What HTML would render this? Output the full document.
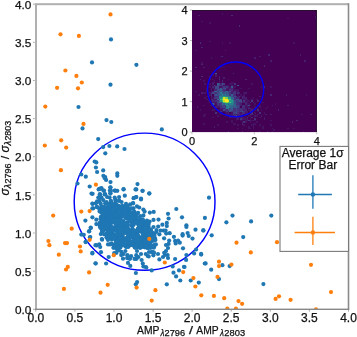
<!DOCTYPE html><html><head><meta charset="utf-8"><style>html,body{margin:0;padding:0;background:#fff;}svg{display:block;}text{font-family:"Liberation Sans",sans-serif;fill:#111;stroke:#111;stroke-width:0.25px;}svg{will-change:transform;}</style></head><body>
<svg width="357" height="337" viewBox="0 0 357 337">
<rect width="357" height="337" fill="#fff"/>
<defs><clipPath id="ax"><rect x="35.8" y="4.2" width="312.7" height="305.1"/></clipPath></defs>
<g clip-path="url(#ax)">
<ellipse cx="144.6" cy="201.7" rx="70.4" ry="68.6" fill="none" stroke="#0000ff" stroke-width="1.45"/>
<g fill="#1f77b4">
<circle cx="116.1" cy="207.2" r="2.1"/>
<circle cx="128.6" cy="217.6" r="2.1"/>
<circle cx="100.4" cy="224.4" r="2.1"/>
<circle cx="122.0" cy="239.7" r="2.1"/>
<circle cx="104.3" cy="210.7" r="2.1"/>
<circle cx="134.0" cy="245.5" r="2.1"/>
<circle cx="131.0" cy="219.0" r="2.1"/>
<circle cx="115.2" cy="239.2" r="2.1"/>
<circle cx="107.7" cy="227.9" r="2.1"/>
<circle cx="134.7" cy="217.9" r="2.1"/>
<circle cx="137.1" cy="220.5" r="2.1"/>
<circle cx="115.5" cy="228.1" r="2.1"/>
<circle cx="123.7" cy="214.4" r="2.1"/>
<circle cx="143.9" cy="233.6" r="2.1"/>
<circle cx="111.4" cy="227.6" r="2.1"/>
<circle cx="128.0" cy="242.0" r="2.1"/>
<circle cx="121.7" cy="236.3" r="2.1"/>
<circle cx="106.0" cy="223.5" r="2.1"/>
<circle cx="142.1" cy="227.5" r="2.1"/>
<circle cx="138.0" cy="228.5" r="2.1"/>
<circle cx="131.2" cy="221.9" r="2.1"/>
<circle cx="146.6" cy="245.3" r="2.1"/>
<circle cx="125.0" cy="231.9" r="2.1"/>
<circle cx="135.2" cy="247.7" r="2.1"/>
<circle cx="119.8" cy="232.1" r="2.1"/>
<circle cx="104.6" cy="211.9" r="2.1"/>
<circle cx="120.1" cy="241.8" r="2.1"/>
<circle cx="101.8" cy="221.6" r="2.1"/>
<circle cx="129.4" cy="242.4" r="2.1"/>
<circle cx="145.3" cy="241.5" r="2.1"/>
<circle cx="113.4" cy="219.9" r="2.1"/>
<circle cx="118.2" cy="242.4" r="2.1"/>
<circle cx="107.4" cy="211.1" r="2.1"/>
<circle cx="110.8" cy="223.3" r="2.1"/>
<circle cx="131.8" cy="212.6" r="2.1"/>
<circle cx="118.8" cy="227.2" r="2.1"/>
<circle cx="153.2" cy="233.1" r="2.1"/>
<circle cx="127.4" cy="229.6" r="2.1"/>
<circle cx="150.1" cy="237.4" r="2.1"/>
<circle cx="148.6" cy="238.3" r="2.1"/>
<circle cx="120.2" cy="219.2" r="2.1"/>
<circle cx="103.1" cy="230.4" r="2.1"/>
<circle cx="109.3" cy="207.8" r="2.1"/>
<circle cx="103.0" cy="217.5" r="2.1"/>
<circle cx="111.9" cy="216.7" r="2.1"/>
<circle cx="118.5" cy="205.9" r="2.1"/>
<circle cx="147.1" cy="247.7" r="2.1"/>
<circle cx="124.5" cy="223.2" r="2.1"/>
<circle cx="117.2" cy="212.7" r="2.1"/>
<circle cx="128.2" cy="247.0" r="2.1"/>
<circle cx="147.9" cy="233.4" r="2.1"/>
<circle cx="112.4" cy="217.6" r="2.1"/>
<circle cx="106.9" cy="237.1" r="2.1"/>
<circle cx="128.4" cy="237.4" r="2.1"/>
<circle cx="116.5" cy="210.7" r="2.1"/>
<circle cx="144.9" cy="247.3" r="2.1"/>
<circle cx="147.3" cy="238.7" r="2.1"/>
<circle cx="145.3" cy="235.5" r="2.1"/>
<circle cx="110.4" cy="224.8" r="2.1"/>
<circle cx="112.3" cy="233.2" r="2.1"/>
<circle cx="152.3" cy="247.4" r="2.1"/>
<circle cx="110.0" cy="210.9" r="2.1"/>
<circle cx="108.6" cy="209.8" r="2.1"/>
<circle cx="133.8" cy="243.2" r="2.1"/>
<circle cx="146.6" cy="223.0" r="2.1"/>
<circle cx="135.5" cy="238.4" r="2.1"/>
<circle cx="102.0" cy="231.7" r="2.1"/>
<circle cx="150.7" cy="237.6" r="2.1"/>
<circle cx="141.3" cy="222.9" r="2.1"/>
<circle cx="107.5" cy="237.9" r="2.1"/>
<circle cx="116.6" cy="238.4" r="2.1"/>
<circle cx="120.7" cy="245.4" r="2.1"/>
<circle cx="104.5" cy="207.3" r="2.1"/>
<circle cx="150.4" cy="238.7" r="2.1"/>
<circle cx="117.7" cy="226.3" r="2.1"/>
<circle cx="128.1" cy="244.8" r="2.1"/>
<circle cx="122.6" cy="241.8" r="2.1"/>
<circle cx="111.9" cy="214.1" r="2.1"/>
<circle cx="111.2" cy="228.1" r="2.1"/>
<circle cx="112.3" cy="220.1" r="2.1"/>
<circle cx="117.9" cy="222.0" r="2.1"/>
<circle cx="131.4" cy="243.4" r="2.1"/>
<circle cx="121.8" cy="244.1" r="2.1"/>
<circle cx="126.6" cy="225.5" r="2.1"/>
<circle cx="123.0" cy="208.8" r="2.1"/>
<circle cx="107.2" cy="222.7" r="2.1"/>
<circle cx="139.8" cy="226.7" r="2.1"/>
<circle cx="116.2" cy="224.9" r="2.1"/>
<circle cx="129.8" cy="237.6" r="2.1"/>
<circle cx="103.3" cy="226.9" r="2.1"/>
<circle cx="111.7" cy="213.3" r="2.1"/>
<circle cx="142.6" cy="224.4" r="2.1"/>
<circle cx="130.1" cy="236.5" r="2.1"/>
<circle cx="133.1" cy="224.3" r="2.1"/>
<circle cx="127.2" cy="233.3" r="2.1"/>
<circle cx="123.7" cy="225.6" r="2.1"/>
<circle cx="125.2" cy="245.2" r="2.1"/>
<circle cx="138.3" cy="242.1" r="2.1"/>
<circle cx="130.0" cy="245.3" r="2.1"/>
<circle cx="104.2" cy="221.2" r="2.1"/>
<circle cx="101.3" cy="211.6" r="2.1"/>
<circle cx="143.3" cy="243.1" r="2.1"/>
<circle cx="106.1" cy="234.4" r="2.1"/>
<circle cx="149.1" cy="246.4" r="2.1"/>
<circle cx="120.5" cy="223.4" r="2.1"/>
<circle cx="155.4" cy="240.0" r="2.1"/>
<circle cx="106.5" cy="220.7" r="2.1"/>
<circle cx="127.4" cy="216.3" r="2.1"/>
<circle cx="108.5" cy="215.3" r="2.1"/>
<circle cx="129.7" cy="221.1" r="2.1"/>
<circle cx="133.8" cy="224.6" r="2.1"/>
<circle cx="143.5" cy="246.6" r="2.1"/>
<circle cx="103.2" cy="212.7" r="2.1"/>
<circle cx="113.0" cy="206.2" r="2.1"/>
<circle cx="121.9" cy="243.7" r="2.1"/>
<circle cx="130.7" cy="233.6" r="2.1"/>
<circle cx="137.6" cy="220.4" r="2.1"/>
<circle cx="134.4" cy="238.5" r="2.1"/>
<circle cx="123.8" cy="216.3" r="2.1"/>
<circle cx="129.6" cy="244.5" r="2.1"/>
<circle cx="112.8" cy="206.2" r="2.1"/>
<circle cx="128.1" cy="211.4" r="2.1"/>
<circle cx="103.5" cy="207.7" r="2.1"/>
<circle cx="115.4" cy="214.6" r="2.1"/>
<circle cx="126.5" cy="208.5" r="2.1"/>
<circle cx="140.3" cy="226.5" r="2.1"/>
<circle cx="108.2" cy="222.8" r="2.1"/>
<circle cx="126.2" cy="240.1" r="2.1"/>
<circle cx="120.2" cy="224.3" r="2.1"/>
<circle cx="137.6" cy="247.2" r="2.1"/>
<circle cx="117.2" cy="239.9" r="2.1"/>
<circle cx="138.7" cy="230.5" r="2.1"/>
<circle cx="120.9" cy="216.7" r="2.1"/>
<circle cx="112.1" cy="207.8" r="2.1"/>
<circle cx="148.4" cy="232.2" r="2.1"/>
<circle cx="113.6" cy="211.6" r="2.1"/>
<circle cx="114.3" cy="222.1" r="2.1"/>
<circle cx="106.3" cy="221.4" r="2.1"/>
<circle cx="115.3" cy="217.1" r="2.1"/>
<circle cx="125.0" cy="224.1" r="2.1"/>
<circle cx="108.9" cy="224.2" r="2.1"/>
<circle cx="102.3" cy="219.2" r="2.1"/>
<circle cx="115.0" cy="211.2" r="2.1"/>
<circle cx="131.5" cy="225.4" r="2.1"/>
<circle cx="141.3" cy="231.6" r="2.1"/>
<circle cx="139.2" cy="242.2" r="2.1"/>
<circle cx="120.0" cy="215.7" r="2.1"/>
<circle cx="139.7" cy="230.9" r="2.1"/>
<circle cx="149.6" cy="230.1" r="2.1"/>
<circle cx="140.3" cy="239.0" r="2.1"/>
<circle cx="105.2" cy="225.1" r="2.1"/>
<circle cx="126.8" cy="240.1" r="2.1"/>
<circle cx="144.5" cy="239.7" r="2.1"/>
<circle cx="131.5" cy="242.9" r="2.1"/>
<circle cx="137.3" cy="233.3" r="2.1"/>
<circle cx="104.9" cy="217.3" r="2.1"/>
<circle cx="130.0" cy="230.1" r="2.1"/>
<circle cx="133.9" cy="232.7" r="2.1"/>
<circle cx="144.1" cy="235.9" r="2.1"/>
<circle cx="126.7" cy="225.7" r="2.1"/>
<circle cx="101.4" cy="212.7" r="2.1"/>
<circle cx="140.6" cy="246.8" r="2.1"/>
<circle cx="126.1" cy="218.4" r="2.1"/>
<circle cx="125.3" cy="232.8" r="2.1"/>
<circle cx="142.3" cy="229.6" r="2.1"/>
<circle cx="105.7" cy="212.2" r="2.1"/>
<circle cx="136.6" cy="233.2" r="2.1"/>
<circle cx="127.5" cy="222.3" r="2.1"/>
<circle cx="154.7" cy="244.9" r="2.1"/>
<circle cx="145.4" cy="246.5" r="2.1"/>
<circle cx="123.5" cy="212.9" r="2.1"/>
<circle cx="109.4" cy="227.9" r="2.1"/>
<circle cx="105.4" cy="225.2" r="2.1"/>
<circle cx="145.4" cy="224.4" r="2.1"/>
<circle cx="149.3" cy="233.8" r="2.1"/>
<circle cx="123.6" cy="214.5" r="2.1"/>
<circle cx="105.3" cy="216.5" r="2.1"/>
<circle cx="115.6" cy="240.3" r="2.1"/>
<circle cx="151.7" cy="234.2" r="2.1"/>
<circle cx="119.0" cy="218.9" r="2.1"/>
<circle cx="118.3" cy="220.5" r="2.1"/>
<circle cx="113.9" cy="244.9" r="2.1"/>
<circle cx="111.7" cy="212.8" r="2.1"/>
<circle cx="127.1" cy="209.1" r="2.1"/>
<circle cx="119.0" cy="245.9" r="2.1"/>
<circle cx="149.2" cy="239.0" r="2.1"/>
<circle cx="134.2" cy="243.8" r="2.1"/>
<circle cx="140.2" cy="221.6" r="2.1"/>
<circle cx="141.4" cy="230.9" r="2.1"/>
<circle cx="124.9" cy="216.5" r="2.1"/>
<circle cx="114.6" cy="235.5" r="2.1"/>
<circle cx="129.9" cy="218.9" r="2.1"/>
<circle cx="106.9" cy="207.8" r="2.1"/>
<circle cx="126.3" cy="210.6" r="2.1"/>
<circle cx="150.5" cy="247.8" r="2.1"/>
<circle cx="123.5" cy="206.7" r="2.1"/>
<circle cx="111.1" cy="212.4" r="2.1"/>
<circle cx="130.6" cy="242.6" r="2.1"/>
<circle cx="141.2" cy="219.8" r="2.1"/>
<circle cx="121.4" cy="225.2" r="2.1"/>
<circle cx="119.2" cy="216.2" r="2.1"/>
<circle cx="126.7" cy="230.2" r="2.1"/>
<circle cx="113.0" cy="211.9" r="2.1"/>
<circle cx="120.6" cy="221.4" r="2.1"/>
<circle cx="153.3" cy="240.7" r="2.1"/>
<circle cx="120.1" cy="244.5" r="2.1"/>
<circle cx="145.7" cy="241.1" r="2.1"/>
<circle cx="103.4" cy="207.4" r="2.1"/>
<circle cx="127.8" cy="232.7" r="2.1"/>
<circle cx="152.5" cy="234.6" r="2.1"/>
<circle cx="135.2" cy="236.7" r="2.1"/>
<circle cx="124.0" cy="226.5" r="2.1"/>
<circle cx="135.1" cy="214.6" r="2.1"/>
<circle cx="104.6" cy="212.1" r="2.1"/>
<circle cx="134.5" cy="233.5" r="2.1"/>
<circle cx="127.9" cy="228.0" r="2.1"/>
<circle cx="119.9" cy="210.7" r="2.1"/>
<circle cx="114.8" cy="222.1" r="2.1"/>
<circle cx="110.9" cy="211.9" r="2.1"/>
<circle cx="153.7" cy="233.8" r="2.1"/>
<circle cx="126.4" cy="232.4" r="2.1"/>
<circle cx="121.8" cy="212.3" r="2.1"/>
<circle cx="136.4" cy="244.4" r="2.1"/>
<circle cx="116.9" cy="220.2" r="2.1"/>
<circle cx="144.0" cy="235.5" r="2.1"/>
<circle cx="126.8" cy="209.9" r="2.1"/>
<circle cx="110.1" cy="236.5" r="2.1"/>
<circle cx="114.4" cy="245.7" r="2.1"/>
<circle cx="126.3" cy="209.0" r="2.1"/>
<circle cx="110.2" cy="220.0" r="2.1"/>
<circle cx="136.3" cy="245.5" r="2.1"/>
<circle cx="105.6" cy="218.9" r="2.1"/>
<circle cx="100.5" cy="218.9" r="2.1"/>
<circle cx="150.0" cy="242.4" r="2.1"/>
<circle cx="140.2" cy="247.9" r="2.1"/>
<circle cx="136.2" cy="218.2" r="2.1"/>
<circle cx="119.1" cy="215.9" r="2.1"/>
<circle cx="113.5" cy="216.9" r="2.1"/>
<circle cx="118.0" cy="239.4" r="2.1"/>
<circle cx="99.9" cy="222.7" r="2.1"/>
<circle cx="119.0" cy="244.1" r="2.1"/>
<circle cx="108.4" cy="217.5" r="2.1"/>
<circle cx="121.2" cy="239.0" r="2.1"/>
<circle cx="141.1" cy="243.1" r="2.1"/>
<circle cx="117.0" cy="213.1" r="2.1"/>
<circle cx="112.5" cy="234.4" r="2.1"/>
<circle cx="115.7" cy="213.2" r="2.1"/>
<circle cx="151.1" cy="230.4" r="2.1"/>
<circle cx="110.8" cy="222.8" r="2.1"/>
<circle cx="153.4" cy="245.8" r="2.1"/>
<circle cx="119.8" cy="212.1" r="2.1"/>
<circle cx="122.4" cy="223.7" r="2.1"/>
<circle cx="144.4" cy="235.4" r="2.1"/>
<circle cx="145.5" cy="237.1" r="2.1"/>
<circle cx="132.8" cy="215.7" r="2.1"/>
<circle cx="115.9" cy="217.4" r="2.1"/>
<circle cx="108.6" cy="236.1" r="2.1"/>
<circle cx="116.2" cy="247.1" r="2.1"/>
<circle cx="149.1" cy="247.4" r="2.1"/>
<circle cx="102.7" cy="223.9" r="2.1"/>
<circle cx="138.9" cy="221.5" r="2.1"/>
<circle cx="110.8" cy="220.0" r="2.1"/>
<circle cx="133.6" cy="232.4" r="2.1"/>
<circle cx="141.1" cy="240.7" r="2.1"/>
<circle cx="130.4" cy="217.9" r="2.1"/>
<circle cx="111.6" cy="211.8" r="2.1"/>
<circle cx="131.1" cy="215.7" r="2.1"/>
<circle cx="120.4" cy="247.6" r="2.1"/>
<circle cx="126.9" cy="211.1" r="2.1"/>
<circle cx="144.7" cy="231.4" r="2.1"/>
<circle cx="125.0" cy="239.3" r="2.1"/>
<circle cx="146.6" cy="243.9" r="2.1"/>
<circle cx="104.0" cy="209.1" r="2.1"/>
<circle cx="112.3" cy="237.3" r="2.1"/>
<circle cx="132.2" cy="229.8" r="2.1"/>
<circle cx="109.8" cy="217.7" r="2.1"/>
<circle cx="105.3" cy="209.8" r="2.1"/>
<circle cx="112.0" cy="228.8" r="2.1"/>
<circle cx="115.4" cy="209.8" r="2.1"/>
<circle cx="143.9" cy="226.3" r="2.1"/>
<circle cx="120.3" cy="226.4" r="2.1"/>
<circle cx="106.7" cy="233.4" r="2.1"/>
<circle cx="121.2" cy="213.6" r="2.1"/>
<circle cx="115.1" cy="245.8" r="2.1"/>
<circle cx="115.4" cy="227.2" r="2.1"/>
<circle cx="118.1" cy="220.0" r="2.1"/>
<circle cx="148.0" cy="247.8" r="2.1"/>
<circle cx="118.5" cy="209.5" r="2.1"/>
<circle cx="122.0" cy="239.4" r="2.1"/>
<circle cx="121.0" cy="242.4" r="2.1"/>
<circle cx="124.2" cy="207.8" r="2.1"/>
<circle cx="134.8" cy="243.7" r="2.1"/>
<circle cx="102.3" cy="229.9" r="2.1"/>
<circle cx="118.9" cy="224.2" r="2.1"/>
<circle cx="105.6" cy="213.6" r="2.1"/>
<circle cx="127.7" cy="244.4" r="2.1"/>
<circle cx="103.4" cy="223.5" r="2.1"/>
<circle cx="144.5" cy="246.4" r="2.1"/>
<circle cx="152.6" cy="246.8" r="2.1"/>
<circle cx="150.3" cy="229.8" r="2.1"/>
<circle cx="120.9" cy="240.6" r="2.1"/>
<circle cx="109.9" cy="219.2" r="2.1"/>
<circle cx="127.6" cy="218.4" r="2.1"/>
<circle cx="104.3" cy="211.9" r="2.1"/>
<circle cx="139.8" cy="243.1" r="2.1"/>
<circle cx="132.4" cy="226.4" r="2.1"/>
<circle cx="134.0" cy="214.7" r="2.1"/>
<circle cx="121.8" cy="228.0" r="2.1"/>
<circle cx="122.1" cy="231.6" r="2.1"/>
<circle cx="123.4" cy="221.0" r="2.1"/>
<circle cx="125.9" cy="211.3" r="2.1"/>
<circle cx="142.1" cy="237.4" r="2.1"/>
<circle cx="124.0" cy="208.6" r="2.1"/>
<circle cx="104.6" cy="220.7" r="2.1"/>
<circle cx="102.4" cy="221.2" r="2.1"/>
<circle cx="140.3" cy="237.3" r="2.1"/>
<circle cx="126.7" cy="218.1" r="2.1"/>
<circle cx="147.6" cy="247.8" r="2.1"/>
<circle cx="140.2" cy="239.1" r="2.1"/>
<circle cx="126.0" cy="245.9" r="2.1"/>
<circle cx="143.5" cy="244.7" r="2.1"/>
<circle cx="100.9" cy="216.8" r="2.1"/>
<circle cx="126.6" cy="244.2" r="2.1"/>
<circle cx="109.3" cy="212.6" r="2.1"/>
<circle cx="126.9" cy="215.3" r="2.1"/>
<circle cx="137.1" cy="243.0" r="2.1"/>
<circle cx="107.0" cy="237.7" r="2.1"/>
<circle cx="103.8" cy="225.5" r="2.1"/>
<circle cx="134.5" cy="217.3" r="2.1"/>
<circle cx="148.5" cy="226.6" r="2.1"/>
<circle cx="131.2" cy="242.4" r="2.1"/>
<circle cx="134.2" cy="218.9" r="2.1"/>
<circle cx="118.3" cy="236.7" r="2.1"/>
<circle cx="123.1" cy="208.5" r="2.1"/>
<circle cx="134.7" cy="247.2" r="2.1"/>
<circle cx="131.6" cy="231.9" r="2.1"/>
<circle cx="133.3" cy="220.7" r="2.1"/>
<circle cx="127.2" cy="243.0" r="2.1"/>
<circle cx="104.8" cy="210.9" r="2.1"/>
<circle cx="103.3" cy="217.1" r="2.1"/>
<circle cx="110.2" cy="228.0" r="2.1"/>
<circle cx="133.8" cy="222.8" r="2.1"/>
<circle cx="111.4" cy="207.2" r="2.1"/>
<circle cx="102.7" cy="230.6" r="2.1"/>
<circle cx="148.4" cy="237.5" r="2.1"/>
<circle cx="120.7" cy="212.7" r="2.1"/>
<circle cx="130.2" cy="216.8" r="2.1"/>
<circle cx="135.1" cy="221.3" r="2.1"/>
<circle cx="152.3" cy="235.2" r="2.1"/>
<circle cx="111.7" cy="243.4" r="2.1"/>
<circle cx="99.6" cy="225.5" r="2.1"/>
<circle cx="121.0" cy="211.4" r="2.1"/>
<circle cx="108.8" cy="229.2" r="2.1"/>
<circle cx="126.9" cy="230.8" r="2.1"/>
<circle cx="115.3" cy="214.4" r="2.1"/>
<circle cx="143.2" cy="234.3" r="2.1"/>
<circle cx="141.0" cy="222.3" r="2.1"/>
<circle cx="140.8" cy="221.7" r="2.1"/>
<circle cx="116.8" cy="236.0" r="2.1"/>
<circle cx="138.0" cy="240.6" r="2.1"/>
<circle cx="129.7" cy="220.9" r="2.1"/>
<circle cx="143.5" cy="225.1" r="2.1"/>
<circle cx="112.7" cy="230.8" r="2.1"/>
<circle cx="112.4" cy="211.3" r="2.1"/>
<circle cx="140.9" cy="245.3" r="2.1"/>
<circle cx="134.2" cy="233.3" r="2.1"/>
<circle cx="136.2" cy="247.0" r="2.1"/>
<circle cx="124.7" cy="240.3" r="2.1"/>
<circle cx="138.2" cy="241.2" r="2.1"/>
<circle cx="122.8" cy="234.8" r="2.1"/>
<circle cx="130.7" cy="214.8" r="2.1"/>
<circle cx="109.5" cy="229.9" r="2.1"/>
<circle cx="117.3" cy="206.8" r="2.1"/>
<circle cx="137.9" cy="230.4" r="2.1"/>
<circle cx="138.1" cy="235.4" r="2.1"/>
<circle cx="100.9" cy="228.3" r="2.1"/>
<circle cx="118.4" cy="239.2" r="2.1"/>
<circle cx="145.4" cy="242.8" r="2.1"/>
<circle cx="151.0" cy="245.3" r="2.1"/>
<circle cx="103.3" cy="209.9" r="2.1"/>
<circle cx="147.0" cy="239.0" r="2.1"/>
<circle cx="134.4" cy="239.6" r="2.1"/>
<circle cx="134.3" cy="213.8" r="2.1"/>
<circle cx="115.8" cy="220.3" r="2.1"/>
<circle cx="113.7" cy="234.4" r="2.1"/>
<circle cx="118.7" cy="215.4" r="2.1"/>
<circle cx="147.2" cy="229.7" r="2.1"/>
<circle cx="122.8" cy="237.1" r="2.1"/>
<circle cx="117.5" cy="233.8" r="2.1"/>
<circle cx="128.7" cy="210.4" r="2.1"/>
<circle cx="142.0" cy="246.9" r="2.1"/>
<circle cx="126.0" cy="238.2" r="2.1"/>
<circle cx="107.9" cy="223.7" r="2.1"/>
<circle cx="117.5" cy="239.9" r="2.1"/>
<circle cx="113.7" cy="210.3" r="2.1"/>
<circle cx="138.3" cy="223.9" r="2.1"/>
<circle cx="103.5" cy="230.6" r="2.1"/>
<circle cx="138.1" cy="237.8" r="2.1"/>
<circle cx="134.0" cy="217.1" r="2.1"/>
<circle cx="120.7" cy="218.9" r="2.1"/>
<circle cx="109.2" cy="212.6" r="2.1"/>
<circle cx="119.4" cy="242.4" r="2.1"/>
<circle cx="110.8" cy="222.1" r="2.1"/>
<circle cx="128.4" cy="236.2" r="2.1"/>
<circle cx="141.4" cy="231.0" r="2.1"/>
<circle cx="117.6" cy="215.7" r="2.1"/>
<circle cx="136.1" cy="235.6" r="2.1"/>
<circle cx="107.0" cy="221.1" r="2.1"/>
<circle cx="142.6" cy="227.8" r="2.1"/>
<circle cx="104.4" cy="222.2" r="2.1"/>
<circle cx="108.3" cy="214.5" r="2.1"/>
<circle cx="138.5" cy="240.5" r="2.1"/>
<circle cx="106.1" cy="207.5" r="2.1"/>
<circle cx="111.6" cy="215.7" r="2.1"/>
<circle cx="127.8" cy="207.7" r="2.1"/>
<circle cx="116.4" cy="209.1" r="2.1"/>
<circle cx="154.5" cy="235.0" r="2.1"/>
<circle cx="103.0" cy="218.4" r="2.1"/>
<circle cx="155.0" cy="238.2" r="2.1"/>
<circle cx="140.3" cy="220.9" r="2.1"/>
<circle cx="108.6" cy="230.6" r="2.1"/>
<circle cx="103.3" cy="209.9" r="2.1"/>
<circle cx="120.5" cy="238.0" r="2.1"/>
<circle cx="137.9" cy="224.0" r="2.1"/>
<circle cx="134.3" cy="222.2" r="2.1"/>
<circle cx="105.4" cy="229.0" r="2.1"/>
<circle cx="120.9" cy="235.6" r="2.1"/>
<circle cx="130.9" cy="236.0" r="2.1"/>
<circle cx="121.8" cy="211.0" r="2.1"/>
<circle cx="139.6" cy="242.2" r="2.1"/>
<circle cx="142.7" cy="233.6" r="2.1"/>
<circle cx="147.3" cy="232.6" r="2.1"/>
<circle cx="134.9" cy="221.8" r="2.1"/>
<circle cx="115.5" cy="230.2" r="2.1"/>
<circle cx="102.8" cy="220.1" r="2.1"/>
<circle cx="143.2" cy="234.2" r="2.1"/>
<circle cx="122.0" cy="221.8" r="2.1"/>
<circle cx="133.7" cy="219.6" r="2.1"/>
<circle cx="136.8" cy="244.6" r="2.1"/>
<circle cx="107.8" cy="231.4" r="2.1"/>
<circle cx="125.9" cy="246.8" r="2.1"/>
<circle cx="106.5" cy="237.5" r="2.1"/>
<circle cx="103.0" cy="227.6" r="2.1"/>
<circle cx="128.9" cy="234.4" r="2.1"/>
<circle cx="127.2" cy="230.7" r="2.1"/>
<circle cx="145.9" cy="225.0" r="2.1"/>
<circle cx="121.2" cy="245.5" r="2.1"/>
<circle cx="109.4" cy="232.8" r="2.1"/>
<circle cx="120.2" cy="236.6" r="2.1"/>
<circle cx="113.2" cy="219.2" r="2.1"/>
<circle cx="121.8" cy="233.5" r="2.1"/>
<circle cx="117.8" cy="212.7" r="2.1"/>
<circle cx="110.2" cy="235.6" r="2.1"/>
<circle cx="109.9" cy="238.5" r="2.1"/>
<circle cx="120.1" cy="210.2" r="2.1"/>
<circle cx="144.8" cy="230.4" r="2.1"/>
<circle cx="124.7" cy="227.0" r="2.1"/>
<circle cx="117.8" cy="230.7" r="2.1"/>
<circle cx="145.3" cy="239.2" r="2.1"/>
<circle cx="124.6" cy="214.1" r="2.1"/>
<circle cx="119.2" cy="212.2" r="2.1"/>
<circle cx="122.1" cy="208.9" r="2.1"/>
<circle cx="113.6" cy="211.8" r="2.1"/>
<circle cx="114.8" cy="223.0" r="2.1"/>
<circle cx="122.3" cy="230.6" r="2.1"/>
<circle cx="135.9" cy="217.4" r="2.1"/>
<circle cx="151.8" cy="241.0" r="2.1"/>
<circle cx="150.4" cy="237.6" r="2.1"/>
<circle cx="110.8" cy="237.3" r="2.1"/>
<circle cx="117.4" cy="207.3" r="2.1"/>
<circle cx="150.3" cy="238.0" r="2.1"/>
<circle cx="132.9" cy="237.5" r="2.1"/>
<circle cx="136.4" cy="242.9" r="2.1"/>
<circle cx="143.5" cy="240.3" r="2.1"/>
<circle cx="108.6" cy="233.3" r="2.1"/>
<circle cx="128.3" cy="235.6" r="2.1"/>
<circle cx="122.9" cy="242.4" r="2.1"/>
<circle cx="129.7" cy="212.7" r="2.1"/>
<circle cx="110.8" cy="206.7" r="2.1"/>
<circle cx="124.6" cy="206.9" r="2.1"/>
<circle cx="126.0" cy="223.9" r="2.1"/>
<circle cx="128.8" cy="241.4" r="2.1"/>
<circle cx="124.6" cy="227.0" r="2.1"/>
<circle cx="136.3" cy="240.3" r="2.1"/>
<circle cx="119.1" cy="220.1" r="2.1"/>
<circle cx="134.6" cy="230.5" r="2.1"/>
<circle cx="137.3" cy="244.7" r="2.1"/>
<circle cx="116.5" cy="247.1" r="2.1"/>
<circle cx="127.1" cy="223.3" r="2.1"/>
<circle cx="139.4" cy="230.0" r="2.1"/>
<circle cx="117.0" cy="241.4" r="2.1"/>
<circle cx="118.6" cy="222.8" r="2.1"/>
<circle cx="128.0" cy="237.0" r="2.1"/>
<circle cx="109.4" cy="220.9" r="2.1"/>
<circle cx="121.9" cy="226.6" r="2.1"/>
<circle cx="126.7" cy="213.0" r="2.1"/>
<circle cx="126.9" cy="246.8" r="2.1"/>
<circle cx="135.6" cy="238.0" r="2.1"/>
<circle cx="116.5" cy="215.2" r="2.1"/>
<circle cx="114.7" cy="228.1" r="2.1"/>
<circle cx="134.5" cy="237.6" r="2.1"/>
<circle cx="135.8" cy="237.9" r="2.1"/>
<circle cx="150.7" cy="229.4" r="2.1"/>
<circle cx="133.4" cy="230.1" r="2.1"/>
<circle cx="138.1" cy="228.6" r="2.1"/>
<circle cx="136.4" cy="222.0" r="2.1"/>
<circle cx="142.7" cy="243.9" r="2.1"/>
<circle cx="135.7" cy="217.7" r="2.1"/>
<circle cx="145.5" cy="237.8" r="2.1"/>
<circle cx="130.2" cy="212.4" r="2.1"/>
<circle cx="114.8" cy="220.2" r="2.1"/>
<circle cx="115.8" cy="220.7" r="2.1"/>
<circle cx="134.9" cy="244.8" r="2.1"/>
<circle cx="100.2" cy="227.2" r="2.1"/>
<circle cx="144.8" cy="227.6" r="2.1"/>
<circle cx="131.9" cy="245.0" r="2.1"/>
<circle cx="139.1" cy="241.1" r="2.1"/>
<circle cx="134.1" cy="234.0" r="2.1"/>
<circle cx="124.2" cy="244.8" r="2.1"/>
<circle cx="115.4" cy="235.0" r="2.1"/>
<circle cx="118.7" cy="227.6" r="2.1"/>
<circle cx="122.9" cy="232.5" r="2.1"/>
<circle cx="118.4" cy="231.0" r="2.1"/>
<circle cx="134.2" cy="220.1" r="2.1"/>
<circle cx="119.8" cy="237.7" r="2.1"/>
<circle cx="152.8" cy="237.7" r="2.1"/>
<circle cx="130.4" cy="214.0" r="2.1"/>
<circle cx="138.5" cy="239.7" r="2.1"/>
<circle cx="116.6" cy="229.1" r="2.1"/>
<circle cx="154.7" cy="239.9" r="2.1"/>
<circle cx="132.5" cy="214.8" r="2.1"/>
<circle cx="122.3" cy="242.6" r="2.1"/>
<circle cx="119.2" cy="232.9" r="2.1"/>
<circle cx="132.5" cy="243.0" r="2.1"/>
<circle cx="121.9" cy="228.2" r="2.1"/>
<circle cx="145.1" cy="242.6" r="2.1"/>
<circle cx="144.9" cy="241.6" r="2.1"/>
<circle cx="130.7" cy="213.1" r="2.1"/>
<circle cx="147.2" cy="238.7" r="2.1"/>
<circle cx="137.4" cy="243.9" r="2.1"/>
<circle cx="129.7" cy="238.3" r="2.1"/>
<circle cx="108.8" cy="236.0" r="2.1"/>
<circle cx="132.8" cy="232.5" r="2.1"/>
<circle cx="124.5" cy="209.9" r="2.1"/>
<circle cx="112.0" cy="236.1" r="2.1"/>
<circle cx="143.7" cy="222.1" r="2.1"/>
<circle cx="131.2" cy="243.1" r="2.1"/>
<circle cx="125.1" cy="228.3" r="2.1"/>
<circle cx="108.2" cy="209.2" r="2.1"/>
<circle cx="107.7" cy="233.7" r="2.1"/>
<circle cx="118.4" cy="227.1" r="2.1"/>
<circle cx="120.7" cy="224.8" r="2.1"/>
<circle cx="103.3" cy="230.4" r="2.1"/>
<circle cx="132.2" cy="216.6" r="2.1"/>
<circle cx="130.5" cy="212.6" r="2.1"/>
<circle cx="143.0" cy="220.4" r="2.1"/>
<circle cx="152.8" cy="236.8" r="2.1"/>
<circle cx="145.3" cy="246.2" r="2.1"/>
<circle cx="108.9" cy="208.7" r="2.1"/>
<circle cx="129.9" cy="241.8" r="2.1"/>
<circle cx="124.0" cy="245.5" r="2.1"/>
<circle cx="132.3" cy="219.1" r="2.1"/>
<circle cx="112.2" cy="227.1" r="2.1"/>
<circle cx="134.8" cy="245.9" r="2.1"/>
<circle cx="136.5" cy="218.9" r="2.1"/>
<circle cx="123.5" cy="207.7" r="2.1"/>
<circle cx="154.0" cy="247.6" r="2.1"/>
<circle cx="112.1" cy="216.9" r="2.1"/>
<circle cx="150.3" cy="243.4" r="2.1"/>
<circle cx="143.4" cy="234.1" r="2.1"/>
<circle cx="135.2" cy="247.3" r="2.1"/>
<circle cx="141.5" cy="245.1" r="2.1"/>
<circle cx="131.9" cy="236.4" r="2.1"/>
<circle cx="103.2" cy="215.5" r="2.1"/>
<circle cx="112.2" cy="206.0" r="2.1"/>
<circle cx="125.4" cy="208.1" r="2.1"/>
<circle cx="111.1" cy="206.9" r="2.1"/>
<circle cx="148.1" cy="242.7" r="2.1"/>
<circle cx="105.2" cy="221.5" r="2.1"/>
<circle cx="146.7" cy="230.2" r="2.1"/>
<circle cx="123.7" cy="216.3" r="2.1"/>
<circle cx="145.6" cy="222.9" r="2.1"/>
<circle cx="139.1" cy="226.6" r="2.1"/>
<circle cx="112.7" cy="219.8" r="2.1"/>
<circle cx="106.2" cy="213.0" r="2.1"/>
<circle cx="106.9" cy="223.6" r="2.1"/>
<circle cx="115.8" cy="243.4" r="2.1"/>
<circle cx="125.2" cy="213.7" r="2.1"/>
<circle cx="112.2" cy="209.7" r="2.1"/>
<circle cx="118.5" cy="247.6" r="2.1"/>
<circle cx="155.9" cy="244.4" r="2.1"/>
<circle cx="102.8" cy="213.9" r="2.1"/>
<circle cx="146.1" cy="225.3" r="2.1"/>
<circle cx="108.0" cy="220.9" r="2.1"/>
<circle cx="107.6" cy="237.0" r="2.1"/>
<circle cx="132.9" cy="223.8" r="2.1"/>
<circle cx="113.2" cy="209.9" r="2.1"/>
<circle cx="133.1" cy="234.0" r="2.1"/>
<circle cx="144.9" cy="228.0" r="2.1"/>
<circle cx="140.2" cy="219.6" r="2.1"/>
<circle cx="146.7" cy="241.5" r="2.1"/>
<circle cx="108.0" cy="239.9" r="2.1"/>
<circle cx="118.7" cy="207.8" r="2.1"/>
<circle cx="118.9" cy="228.6" r="2.1"/>
<circle cx="123.3" cy="224.8" r="2.1"/>
<circle cx="104.1" cy="234.3" r="2.1"/>
<circle cx="145.2" cy="241.5" r="2.1"/>
<circle cx="115.9" cy="234.1" r="2.1"/>
<circle cx="119.5" cy="236.1" r="2.1"/>
<circle cx="127.3" cy="225.5" r="2.1"/>
<circle cx="111.8" cy="239.2" r="2.1"/>
<circle cx="131.0" cy="225.1" r="2.1"/>
<circle cx="148.3" cy="234.4" r="2.1"/>
<circle cx="126.1" cy="224.0" r="2.1"/>
<circle cx="113.5" cy="205.9" r="2.1"/>
<circle cx="120.9" cy="206.6" r="2.1"/>
<circle cx="131.9" cy="241.3" r="2.1"/>
<circle cx="105.7" cy="227.5" r="2.1"/>
<circle cx="145.7" cy="245.0" r="2.1"/>
<circle cx="119.9" cy="220.2" r="2.1"/>
<circle cx="153.4" cy="255.3" r="2.1"/>
<circle cx="153.8" cy="253.1" r="2.1"/>
<circle cx="131.1" cy="256.2" r="2.1"/>
<circle cx="109.5" cy="203.7" r="2.1"/>
<circle cx="156.4" cy="232.0" r="2.1"/>
<circle cx="102.1" cy="239.7" r="2.1"/>
<circle cx="111.4" cy="203.7" r="2.1"/>
<circle cx="110.1" cy="244.5" r="2.1"/>
<circle cx="149.6" cy="221.6" r="2.1"/>
<circle cx="151.6" cy="252.2" r="2.1"/>
<circle cx="136.6" cy="214.2" r="2.1"/>
<circle cx="100.7" cy="208.4" r="2.1"/>
<circle cx="121.2" cy="255.1" r="2.1"/>
<circle cx="99.5" cy="209.5" r="2.1"/>
<circle cx="134.5" cy="211.9" r="2.1"/>
<circle cx="134.5" cy="258.9" r="2.1"/>
<circle cx="136.2" cy="258.9" r="2.1"/>
<circle cx="127.1" cy="258.1" r="2.1"/>
<circle cx="114.9" cy="203.9" r="2.1"/>
<circle cx="101.3" cy="206.8" r="2.1"/>
<circle cx="116.3" cy="204.0" r="2.1"/>
<circle cx="108.0" cy="244.4" r="2.1"/>
<circle cx="133.3" cy="208.9" r="2.1"/>
<circle cx="111.5" cy="202.4" r="2.1"/>
<circle cx="164.1" cy="238.3" r="2.1"/>
<circle cx="105.2" cy="203.6" r="2.1"/>
<circle cx="113.4" cy="247.8" r="2.1"/>
<circle cx="115.6" cy="200.9" r="2.1"/>
<circle cx="101.8" cy="239.0" r="2.1"/>
<circle cx="138.4" cy="257.0" r="2.1"/>
<circle cx="100.8" cy="234.1" r="2.1"/>
<circle cx="116.4" cy="249.0" r="2.1"/>
<circle cx="167.6" cy="255.0" r="2.1"/>
<circle cx="114.2" cy="253.2" r="2.1"/>
<circle cx="142.7" cy="219.4" r="2.1"/>
<circle cx="130.1" cy="204.4" r="2.1"/>
<circle cx="169.2" cy="240.6" r="2.1"/>
<circle cx="129.9" cy="258.7" r="2.1"/>
<circle cx="152.6" cy="252.2" r="2.1"/>
<circle cx="110.8" cy="243.8" r="2.1"/>
<circle cx="147.9" cy="224.2" r="2.1"/>
<circle cx="105.7" cy="203.1" r="2.1"/>
<circle cx="133.3" cy="208.3" r="2.1"/>
<circle cx="121.4" cy="251.9" r="2.1"/>
<circle cx="119.0" cy="200.4" r="2.1"/>
<circle cx="153.8" cy="252.4" r="2.1"/>
<circle cx="159.4" cy="234.3" r="2.1"/>
<circle cx="140.2" cy="216.2" r="2.1"/>
<circle cx="129.5" cy="257.5" r="2.1"/>
<circle cx="147.7" cy="256.0" r="2.1"/>
<circle cx="125.4" cy="251.0" r="2.1"/>
<circle cx="137.0" cy="251.0" r="2.1"/>
<circle cx="141.0" cy="254.0" r="2.1"/>
<circle cx="149.0" cy="252.0" r="2.1"/>
<circle cx="152.0" cy="247.0" r="2.1"/>
<circle cx="158.0" cy="254.0" r="2.1"/>
<circle cx="163.0" cy="257.0" r="2.1"/>
<circle cx="168.0" cy="258.0" r="2.1"/>
<circle cx="99.6" cy="188.8" r="2.1"/>
<circle cx="101.5" cy="188.2" r="2.1"/>
<circle cx="104.0" cy="190.7" r="2.1"/>
<circle cx="110.3" cy="187.5" r="2.1"/>
<circle cx="110.9" cy="190.7" r="2.1"/>
<circle cx="115.3" cy="190.7" r="2.1"/>
<circle cx="123.5" cy="189.4" r="2.1"/>
<circle cx="135.5" cy="189.4" r="2.1"/>
<circle cx="92.6" cy="193.8" r="2.1"/>
<circle cx="100.2" cy="194.5" r="2.1"/>
<circle cx="104.6" cy="194.5" r="2.1"/>
<circle cx="110.3" cy="193.2" r="2.1"/>
<circle cx="124.8" cy="195.7" r="2.1"/>
<circle cx="98.3" cy="197.6" r="2.1"/>
<circle cx="101.5" cy="197.6" r="2.1"/>
<circle cx="107.1" cy="197.0" r="2.1"/>
<circle cx="109.6" cy="197.6" r="2.1"/>
<circle cx="114.7" cy="197.6" r="2.1"/>
<circle cx="119.1" cy="197.0" r="2.1"/>
<circle cx="133.6" cy="198.2" r="2.1"/>
<circle cx="136.1" cy="197.0" r="2.1"/>
<circle cx="97.0" cy="201.4" r="2.1"/>
<circle cx="99.6" cy="200.8" r="2.1"/>
<circle cx="103.3" cy="200.1" r="2.1"/>
<circle cx="106.5" cy="202.0" r="2.1"/>
<circle cx="110.9" cy="200.8" r="2.1"/>
<circle cx="115.3" cy="199.5" r="2.1"/>
<circle cx="119.1" cy="200.8" r="2.1"/>
<circle cx="121.6" cy="202.0" r="2.1"/>
<circle cx="92.6" cy="203.9" r="2.1"/>
<circle cx="95.8" cy="203.3" r="2.1"/>
<circle cx="100.8" cy="203.9" r="2.1"/>
<circle cx="133.0" cy="203.3" r="2.1"/>
<circle cx="126.0" cy="203.9" r="2.1"/>
<circle cx="93.3" cy="208.3" r="2.1"/>
<circle cx="97.0" cy="207.1" r="2.1"/>
<circle cx="104.0" cy="207.1" r="2.1"/>
<circle cx="108.4" cy="205.2" r="2.1"/>
<circle cx="112.8" cy="205.2" r="2.1"/>
<circle cx="117.2" cy="206.4" r="2.1"/>
<circle cx="122.3" cy="205.8" r="2.1"/>
<circle cx="127.3" cy="206.4" r="2.1"/>
<circle cx="131.1" cy="208.3" r="2.1"/>
<circle cx="99.6" cy="211.5" r="2.1"/>
<circle cx="104.6" cy="210.2" r="2.1"/>
<circle cx="111.0" cy="39.4" r="2.1"/>
<circle cx="92.0" cy="62.4" r="2.1"/>
<circle cx="136.4" cy="64.8" r="2.1"/>
<circle cx="110.5" cy="84.7" r="2.1"/>
<circle cx="78.5" cy="107.0" r="2.1"/>
<circle cx="82.5" cy="128.4" r="2.1"/>
<circle cx="106.5" cy="120.1" r="2.1"/>
<circle cx="111.3" cy="122.0" r="2.1"/>
<circle cx="98.2" cy="139.1" r="2.1"/>
<circle cx="103.2" cy="147.1" r="2.1"/>
<circle cx="109.4" cy="146.0" r="2.1"/>
<circle cx="117.2" cy="146.4" r="2.1"/>
<circle cx="124.5" cy="149.0" r="2.1"/>
<circle cx="105.3" cy="153.3" r="2.1"/>
<circle cx="161.8" cy="129.4" r="2.1"/>
<circle cx="94.7" cy="161.5" r="2.1"/>
<circle cx="96.3" cy="162.4" r="2.1"/>
<circle cx="95.9" cy="167.5" r="2.1"/>
<circle cx="97.1" cy="172.0" r="2.1"/>
<circle cx="103.2" cy="170.4" r="2.1"/>
<circle cx="117.3" cy="173.4" r="2.1"/>
<circle cx="117.3" cy="175.8" r="2.1"/>
<circle cx="85.8" cy="176.7" r="2.1"/>
<circle cx="81.3" cy="174.5" r="2.1"/>
<circle cx="77.5" cy="183.5" r="2.1"/>
<circle cx="103.4" cy="175.8" r="2.1"/>
<circle cx="105.2" cy="177.0" r="2.1"/>
<circle cx="104.6" cy="178.1" r="2.1"/>
<circle cx="106.1" cy="179.9" r="2.1"/>
<circle cx="110.5" cy="182.1" r="2.1"/>
<circle cx="89.7" cy="186.5" r="2.1"/>
<circle cx="98.6" cy="189.4" r="2.1"/>
<circle cx="100.4" cy="188.6" r="2.1"/>
<circle cx="103.4" cy="190.6" r="2.1"/>
<circle cx="110.5" cy="187.3" r="2.1"/>
<circle cx="109.9" cy="190.6" r="2.1"/>
<circle cx="114.7" cy="190.6" r="2.1"/>
<circle cx="117.3" cy="190.8" r="2.1"/>
<circle cx="123.6" cy="189.2" r="2.1"/>
<circle cx="91.5" cy="193.6" r="2.1"/>
<circle cx="99.8" cy="194.2" r="2.1"/>
<circle cx="105.2" cy="194.2" r="2.1"/>
<circle cx="110.5" cy="193.6" r="2.1"/>
<circle cx="137.5" cy="184.1" r="2.1"/>
<circle cx="136.3" cy="189.4" r="2.1"/>
<circle cx="142.6" cy="190.8" r="2.1"/>
<circle cx="149.3" cy="193.6" r="2.1"/>
<circle cx="141.0" cy="198.5" r="2.1"/>
<circle cx="92.4" cy="203.5" r="2.1"/>
<circle cx="92.4" cy="208.3" r="2.1"/>
<circle cx="92.4" cy="217.3" r="2.1"/>
<circle cx="85.4" cy="220.6" r="2.1"/>
<circle cx="96.3" cy="219.7" r="2.1"/>
<circle cx="90.7" cy="227.6" r="2.1"/>
<circle cx="89.2" cy="231.2" r="2.1"/>
<circle cx="96.3" cy="224.1" r="2.1"/>
<circle cx="96.9" cy="206.9" r="2.1"/>
<circle cx="97.5" cy="202.1" r="2.1"/>
<circle cx="99.2" cy="197.4" r="2.1"/>
<circle cx="133.9" cy="198.0" r="2.1"/>
<circle cx="136.3" cy="197.1" r="2.1"/>
<circle cx="141.0" cy="199.5" r="2.1"/>
<circle cx="133.1" cy="203.1" r="2.1"/>
<circle cx="136.9" cy="206.3" r="2.1"/>
<circle cx="139.2" cy="207.5" r="2.1"/>
<circle cx="143.4" cy="209.5" r="2.1"/>
<circle cx="144.6" cy="211.6" r="2.1"/>
<circle cx="149.9" cy="212.6" r="2.1"/>
<circle cx="153.7" cy="211.9" r="2.1"/>
<circle cx="138.1" cy="212.8" r="2.1"/>
<circle cx="143.4" cy="215.4" r="2.1"/>
<circle cx="153.5" cy="219.9" r="2.1"/>
<circle cx="158.5" cy="219.6" r="2.1"/>
<circle cx="147.0" cy="220.5" r="2.1"/>
<circle cx="135.1" cy="217.6" r="2.1"/>
<circle cx="136.9" cy="217.0" r="2.1"/>
<circle cx="148.7" cy="224.1" r="2.1"/>
<circle cx="153.5" cy="227.0" r="2.1"/>
<circle cx="158.2" cy="226.5" r="2.1"/>
<circle cx="162.4" cy="224.7" r="2.1"/>
<circle cx="156.5" cy="230.0" r="2.1"/>
<circle cx="160.6" cy="230.6" r="2.1"/>
<circle cx="163.6" cy="230.6" r="2.1"/>
<circle cx="176.3" cy="209.0" r="2.1"/>
<circle cx="168.0" cy="213.8" r="2.1"/>
<circle cx="168.6" cy="218.5" r="2.1"/>
<circle cx="182.0" cy="217.3" r="2.1"/>
<circle cx="204.9" cy="217.9" r="2.1"/>
<circle cx="166.8" cy="222.9" r="2.1"/>
<circle cx="166.8" cy="226.1" r="2.1"/>
<circle cx="186.4" cy="225.3" r="2.1"/>
<circle cx="186.4" cy="227.0" r="2.1"/>
<circle cx="195.5" cy="229.7" r="2.1"/>
<circle cx="203.3" cy="230.4" r="2.1"/>
<circle cx="165.6" cy="230.6" r="2.1"/>
<circle cx="169.7" cy="233.2" r="2.1"/>
<circle cx="182.6" cy="234.2" r="2.1"/>
<circle cx="187.6" cy="233.0" r="2.1"/>
<circle cx="166.2" cy="233.6" r="2.1"/>
<circle cx="90.3" cy="237.1" r="2.1"/>
<circle cx="85.6" cy="242.1" r="2.1"/>
<circle cx="96.6" cy="245.4" r="2.1"/>
<circle cx="99.2" cy="244.3" r="2.1"/>
<circle cx="100.2" cy="247.1" r="2.1"/>
<circle cx="92.4" cy="253.4" r="2.1"/>
<circle cx="101.0" cy="252.2" r="2.1"/>
<circle cx="108.7" cy="257.0" r="2.1"/>
<circle cx="95.7" cy="263.5" r="2.1"/>
<circle cx="106.1" cy="263.5" r="2.1"/>
<circle cx="116.5" cy="252.8" r="2.1"/>
<circle cx="118.8" cy="250.2" r="2.1"/>
<circle cx="123.6" cy="254.0" r="2.1"/>
<circle cx="123.0" cy="258.7" r="2.1"/>
<circle cx="127.4" cy="255.2" r="2.1"/>
<circle cx="129.7" cy="258.7" r="2.1"/>
<circle cx="128.0" cy="262.9" r="2.1"/>
<circle cx="130.3" cy="265.9" r="2.1"/>
<circle cx="136.3" cy="255.2" r="2.1"/>
<circle cx="136.9" cy="258.1" r="2.1"/>
<circle cx="141.6" cy="260.0" r="2.1"/>
<circle cx="142.8" cy="263.5" r="2.1"/>
<circle cx="143.4" cy="266.5" r="2.1"/>
<circle cx="145.8" cy="254.0" r="2.1"/>
<circle cx="148.7" cy="256.4" r="2.1"/>
<circle cx="145.8" cy="267.0" r="2.1"/>
<circle cx="151.7" cy="270.4" r="2.1"/>
<circle cx="135.9" cy="273.0" r="2.1"/>
<circle cx="159.4" cy="259.4" r="2.1"/>
<circle cx="164.2" cy="252.8" r="2.1"/>
<circle cx="173.9" cy="236.8" r="2.1"/>
<circle cx="182.6" cy="235.6" r="2.1"/>
<circle cx="188.7" cy="236.0" r="2.1"/>
<circle cx="192.5" cy="238.6" r="2.1"/>
<circle cx="175.1" cy="240.9" r="2.1"/>
<circle cx="178.1" cy="240.7" r="2.1"/>
<circle cx="175.7" cy="243.5" r="2.1"/>
<circle cx="179.8" cy="242.7" r="2.1"/>
<circle cx="168.6" cy="243.9" r="2.1"/>
<circle cx="166.0" cy="245.0" r="2.1"/>
<circle cx="168.0" cy="248.0" r="2.1"/>
<circle cx="166.0" cy="251.0" r="2.1"/>
<circle cx="165.0" cy="255.0" r="2.1"/>
<circle cx="183.0" cy="248.3" r="2.1"/>
<circle cx="196.1" cy="249.5" r="2.1"/>
<circle cx="194.1" cy="253.4" r="2.1"/>
<circle cx="201.2" cy="254.6" r="2.1"/>
<circle cx="186.4" cy="255.0" r="2.1"/>
<circle cx="175.1" cy="259.0" r="2.1"/>
<circle cx="186.1" cy="259.9" r="2.1"/>
<circle cx="204.8" cy="263.5" r="2.1"/>
<circle cx="172.7" cy="266.5" r="2.1"/>
<circle cx="184.0" cy="266.8" r="2.1"/>
<circle cx="179.0" cy="270.4" r="2.1"/>
<circle cx="173.5" cy="272.7" r="2.1"/>
<circle cx="137.1" cy="282.1" r="2.1"/>
<circle cx="135.8" cy="284.3" r="2.1"/>
<circle cx="146.3" cy="267.5" r="2.1"/>
<circle cx="184.5" cy="267.0" r="2.1"/>
<circle cx="176.1" cy="276.4" r="2.1"/>
<circle cx="180.3" cy="280.5" r="2.1"/>
<circle cx="166.8" cy="284.3" r="2.1"/>
<circle cx="190.7" cy="280.5" r="2.1"/>
<circle cx="198.8" cy="282.6" r="2.1"/>
<circle cx="209.0" cy="197.7" r="2.1"/>
<circle cx="232.5" cy="215.6" r="2.1"/>
<circle cx="226.4" cy="222.3" r="2.1"/>
<circle cx="251.1" cy="221.4" r="2.1"/>
<circle cx="271.3" cy="215.6" r="2.1"/>
<circle cx="203.4" cy="230.4" r="2.1"/>
<circle cx="211.7" cy="235.3" r="2.1"/>
<circle cx="243.2" cy="237.1" r="2.1"/>
<circle cx="201.1" cy="253.9" r="2.1"/>
<circle cx="205.6" cy="263.4" r="2.1"/>
<circle cx="222.4" cy="265.2" r="2.1"/>
<circle cx="229.6" cy="266.1" r="2.1"/>
<circle cx="211.2" cy="269.7" r="2.1"/>
<circle cx="219.0" cy="279.1" r="2.1"/>
<circle cx="263.4" cy="284.1" r="2.1"/>
<circle cx="81.3" cy="234.6" r="2.1"/>
<circle cx="83.8" cy="234.8" r="2.1"/>
<circle cx="89.0" cy="231.5" r="2.1"/>
<circle cx="90.8" cy="228.1" r="2.1"/>
<circle cx="89.8" cy="237.4" r="2.1"/>
<circle cx="85.7" cy="241.8" r="2.1"/>
<circle cx="92.4" cy="252.9" r="2.1"/>
<circle cx="95.5" cy="263.3" r="2.1"/>
<circle cx="95.5" cy="245.2" r="2.1"/>
<circle cx="142.5" cy="190.8" r="2.1"/>
<circle cx="149.3" cy="193.3" r="2.1"/>
</g>
<g fill="#ff7f0e">
<circle cx="110.5" cy="14.4" r="2.1"/>
<circle cx="60.5" cy="34.3" r="2.1"/>
<circle cx="78.9" cy="35.9" r="2.1"/>
<circle cx="65.4" cy="70.5" r="2.1"/>
<circle cx="76.4" cy="75.9" r="2.1"/>
<circle cx="81.8" cy="82.5" r="2.1"/>
<circle cx="57.1" cy="87.8" r="2.1"/>
<circle cx="78.0" cy="88.3" r="2.1"/>
<circle cx="45.3" cy="106.6" r="2.1"/>
<circle cx="83.5" cy="123.9" r="2.1"/>
<circle cx="61.2" cy="140.3" r="2.1"/>
<circle cx="44.8" cy="145.5" r="2.1"/>
<circle cx="66.2" cy="147.6" r="2.1"/>
<circle cx="60.9" cy="170.2" r="2.1"/>
<circle cx="95.9" cy="184.7" r="2.1"/>
<circle cx="89.6" cy="211.1" r="2.1"/>
<circle cx="81.3" cy="211.6" r="2.1"/>
<circle cx="53.2" cy="215.6" r="2.1"/>
<circle cx="71.7" cy="228.7" r="2.1"/>
<circle cx="89.7" cy="239.8" r="2.1"/>
<circle cx="48.4" cy="241.0" r="2.1"/>
<circle cx="49.4" cy="245.2" r="2.1"/>
<circle cx="65.0" cy="243.1" r="2.1"/>
<circle cx="67.0" cy="243.1" r="2.1"/>
<circle cx="58.8" cy="254.7" r="2.1"/>
<circle cx="80.0" cy="246.5" r="2.1"/>
<circle cx="80.7" cy="251.4" r="2.1"/>
<circle cx="67.8" cy="266.9" r="2.1"/>
<circle cx="66.0" cy="269.5" r="2.1"/>
<circle cx="89.1" cy="272.4" r="2.1"/>
<circle cx="63.9" cy="288.9" r="2.1"/>
<circle cx="113.8" cy="255.2" r="2.1"/>
<circle cx="149.3" cy="238.9" r="2.1"/>
<circle cx="164.8" cy="262.5" r="2.1"/>
<circle cx="107.7" cy="284.8" r="2.1"/>
<circle cx="100.5" cy="292.7" r="2.1"/>
<circle cx="136.6" cy="287.6" r="2.1"/>
<circle cx="183.2" cy="272.1" r="2.1"/>
<circle cx="193.4" cy="278.1" r="2.1"/>
<circle cx="195.4" cy="286.5" r="2.1"/>
<circle cx="201.3" cy="295.3" r="2.1"/>
<circle cx="155.4" cy="290.2" r="2.1"/>
<circle cx="151.7" cy="300.6" r="2.1"/>
<circle cx="236.5" cy="242.7" r="2.1"/>
<circle cx="277.0" cy="242.2" r="2.1"/>
<circle cx="250.8" cy="252.4" r="2.1"/>
<circle cx="219.0" cy="261.7" r="2.1"/>
<circle cx="219.0" cy="266.1" r="2.1"/>
<circle cx="231.4" cy="264.6" r="2.1"/>
<circle cx="217.5" cy="276.9" r="2.1"/>
<circle cx="213.9" cy="295.9" r="2.1"/>
<circle cx="224.2" cy="298.2" r="2.1"/>
<circle cx="238.5" cy="301.1" r="2.1"/>
<circle cx="242.1" cy="303.8" r="2.1"/>
<circle cx="227.3" cy="308.7" r="2.1"/>
<circle cx="235.9" cy="308.7" r="2.1"/>
<circle cx="275.6" cy="298.9" r="2.1"/>
<circle cx="279.0" cy="296.3" r="2.1"/>
<circle cx="311.0" cy="264.8" r="2.1"/>
<circle cx="331.0" cy="292.1" r="2.1"/>
<circle cx="290.6" cy="299.8" r="2.1"/>
<circle cx="316.0" cy="309.4" r="2.1"/>
</g>
</g>
<rect x="35.0" y="4.2" width="2.0" height="305.1" fill="#b0b0b0"/>
<rect x="34.699999999999996" y="3.2" width="313.8" height="2.0" fill="#b0b0b0"/>
<rect x="347.7" y="3.2" width="1.6" height="306.1" fill="#8a8a8a"/>
<rect x="34.699999999999996" y="308.6" width="314.59999999999997" height="1.4" fill="#888"/>
<rect x="35.3" y="310.0" width="1" height="1.6" fill="#aaa"/>
<rect x="33.0" y="308.8" width="1.7" height="1" fill="#aaa"/>
<text x="35.8" y="321.6" font-size="12" text-anchor="middle">0.0</text>
<text x="31.3" y="313.9" font-size="11.8" text-anchor="end">0.0</text>
<rect x="74.4" y="310.0" width="1" height="1.6" fill="#aaa"/>
<rect x="33.0" y="270.7" width="1.7" height="1" fill="#aaa"/>
<text x="74.9" y="321.6" font-size="12" text-anchor="middle">0.5</text>
<text x="31.3" y="275.8" font-size="11.8" text-anchor="end">0.5</text>
<rect x="113.5" y="310.0" width="1" height="1.6" fill="#aaa"/>
<rect x="33.0" y="232.5" width="1.7" height="1" fill="#aaa"/>
<text x="114.0" y="321.6" font-size="12" text-anchor="middle">1.0</text>
<text x="31.3" y="237.6" font-size="11.8" text-anchor="end">1.0</text>
<rect x="152.6" y="310.0" width="1" height="1.6" fill="#aaa"/>
<rect x="33.0" y="194.4" width="1.7" height="1" fill="#aaa"/>
<text x="153.1" y="321.6" font-size="12" text-anchor="middle">1.5</text>
<text x="31.3" y="199.5" font-size="11.8" text-anchor="end">1.5</text>
<rect x="191.6" y="310.0" width="1" height="1.6" fill="#aaa"/>
<rect x="33.0" y="156.2" width="1.7" height="1" fill="#aaa"/>
<text x="192.1" y="321.6" font-size="12" text-anchor="middle">2.0</text>
<text x="31.3" y="161.3" font-size="11.8" text-anchor="end">2.0</text>
<rect x="230.7" y="310.0" width="1" height="1.6" fill="#aaa"/>
<rect x="33.0" y="118.1" width="1.7" height="1" fill="#aaa"/>
<text x="231.2" y="321.6" font-size="12" text-anchor="middle">2.5</text>
<text x="31.3" y="123.2" font-size="11.8" text-anchor="end">2.5</text>
<rect x="269.8" y="310.0" width="1" height="1.6" fill="#aaa"/>
<rect x="33.0" y="80.0" width="1.7" height="1" fill="#aaa"/>
<text x="270.3" y="321.6" font-size="12" text-anchor="middle">3.0</text>
<text x="31.3" y="85.1" font-size="11.8" text-anchor="end">3.0</text>
<rect x="308.9" y="310.0" width="1" height="1.6" fill="#aaa"/>
<rect x="33.0" y="41.8" width="1.7" height="1" fill="#aaa"/>
<text x="309.4" y="321.6" font-size="12" text-anchor="middle">3.5</text>
<text x="31.3" y="46.9" font-size="11.8" text-anchor="end">3.5</text>
<rect x="348.0" y="310.0" width="1" height="1.6" fill="#aaa"/>
<rect x="33.0" y="3.7" width="1.7" height="1" fill="#aaa"/>
<text x="348.5" y="321.6" font-size="12" text-anchor="middle">4.0</text>
<text x="31.3" y="8.8" font-size="11.8" text-anchor="end">4.0</text>
<text x="137.0" y="333.9" font-size="11.3" textLength="22.4" lengthAdjust="spacingAndGlyphs">AMP</text>
<text x="160.4" y="335.6" font-size="9.0" textLength="3.9" lengthAdjust="spacingAndGlyphs" font-style="italic">λ</text>
<text x="164.6" y="335.6" font-size="9.0" textLength="20.5" lengthAdjust="spacingAndGlyphs">2796</text>
<text x="189.0" y="333.9" font-size="11.3" textLength="4.0" lengthAdjust="spacingAndGlyphs">/</text>
<text x="196.3" y="333.9" font-size="11.3" textLength="22.3" lengthAdjust="spacingAndGlyphs">AMP</text>
<text x="220.1" y="335.6" font-size="9.0" textLength="3.9" lengthAdjust="spacingAndGlyphs" font-style="italic">λ</text>
<text x="224.3" y="335.6" font-size="9.0" textLength="20.8" lengthAdjust="spacingAndGlyphs">2803</text>
<text x="-195.4" y="0" font-size="13.2" textLength="7.1" lengthAdjust="spacingAndGlyphs" font-style="italic" transform="translate(9.4,0) rotate(-90)">σ</text>
<text x="-188.4" y="0" font-size="8.6" textLength="4.6" lengthAdjust="spacingAndGlyphs" font-style="italic" transform="translate(11.2,0) rotate(-90)">λ</text>
<text x="-183.4" y="0" font-size="8.6" textLength="20.0" lengthAdjust="spacingAndGlyphs" transform="translate(11.2,0) rotate(-90)">2796</text>
<text x="-159.3" y="0" font-size="11.8" textLength="3.4" lengthAdjust="spacingAndGlyphs" transform="translate(9.4,0) rotate(-90)">/</text>
<text x="-152.4" y="0" font-size="13.2" textLength="7.1" lengthAdjust="spacingAndGlyphs" font-style="italic" transform="translate(9.4,0) rotate(-90)">σ</text>
<text x="-145.4" y="0" font-size="8.6" textLength="4.6" lengthAdjust="spacingAndGlyphs" font-style="italic" transform="translate(11.2,0) rotate(-90)">λ</text>
<text x="-140.6" y="0" font-size="8.6" textLength="19.8" lengthAdjust="spacingAndGlyphs" transform="translate(11.2,0) rotate(-90)">2803</text>
<rect x="192.0" y="10.1" width="124.69999999999999" height="122.0" fill="#440154"/>
<g shape-rendering="crispEdges">
<rect x="227.85" y="130.57" width="1.61" height="1.57" fill="#482475"/>
<rect x="241.88" y="130.57" width="1.61" height="1.57" fill="#482475"/>
<rect x="259.03" y="130.57" width="1.61" height="1.57" fill="#461264"/>
<rect x="266.82" y="130.57" width="1.61" height="1.57" fill="#482475"/>
<rect x="271.50" y="130.57" width="1.61" height="1.57" fill="#461264"/>
<rect x="302.67" y="130.57" width="1.61" height="1.57" fill="#461264"/>
<rect x="273.06" y="129.05" width="1.61" height="1.57" fill="#461264"/>
<rect x="237.20" y="127.52" width="1.61" height="1.57" fill="#461264"/>
<rect x="241.88" y="127.52" width="1.61" height="1.57" fill="#461264"/>
<rect x="248.12" y="127.52" width="1.61" height="1.57" fill="#461264"/>
<rect x="249.67" y="127.52" width="1.61" height="1.57" fill="#461264"/>
<rect x="252.79" y="127.52" width="1.61" height="1.57" fill="#461264"/>
<rect x="262.14" y="127.52" width="1.61" height="1.57" fill="#461264"/>
<rect x="271.50" y="127.52" width="1.61" height="1.57" fill="#461264"/>
<rect x="287.08" y="127.52" width="1.61" height="1.57" fill="#461264"/>
<rect x="293.32" y="127.52" width="1.61" height="1.57" fill="#461264"/>
<rect x="213.82" y="126.00" width="1.61" height="1.57" fill="#471b6d"/>
<rect x="248.12" y="126.00" width="1.61" height="1.57" fill="#461264"/>
<rect x="252.79" y="126.00" width="1.61" height="1.57" fill="#461264"/>
<rect x="262.14" y="126.00" width="1.61" height="1.57" fill="#461264"/>
<rect x="216.94" y="124.47" width="1.61" height="1.57" fill="#461264"/>
<rect x="237.20" y="124.47" width="1.61" height="1.57" fill="#461264"/>
<rect x="243.44" y="124.47" width="1.61" height="1.57" fill="#461264"/>
<rect x="251.23" y="124.47" width="1.61" height="1.57" fill="#461264"/>
<rect x="252.79" y="124.47" width="1.61" height="1.57" fill="#461264"/>
<rect x="259.03" y="124.47" width="1.61" height="1.57" fill="#461264"/>
<rect x="269.94" y="124.47" width="1.61" height="1.57" fill="#461264"/>
<rect x="202.91" y="122.95" width="1.61" height="1.57" fill="#461264"/>
<rect x="232.53" y="122.95" width="1.61" height="1.57" fill="#461264"/>
<rect x="234.09" y="122.95" width="1.61" height="1.57" fill="#461264"/>
<rect x="241.88" y="122.95" width="1.61" height="1.57" fill="#482475"/>
<rect x="252.79" y="122.95" width="1.61" height="1.57" fill="#461264"/>
<rect x="254.35" y="122.95" width="1.61" height="1.57" fill="#461264"/>
<rect x="226.29" y="121.42" width="1.61" height="1.57" fill="#461264"/>
<rect x="230.97" y="121.42" width="1.61" height="1.57" fill="#461264"/>
<rect x="241.88" y="121.42" width="1.61" height="1.57" fill="#461264"/>
<rect x="243.44" y="121.42" width="1.61" height="1.57" fill="#44347e"/>
<rect x="245.00" y="121.42" width="1.61" height="1.57" fill="#461264"/>
<rect x="249.67" y="121.42" width="1.61" height="1.57" fill="#461264"/>
<rect x="255.91" y="121.42" width="1.61" height="1.57" fill="#461264"/>
<rect x="291.76" y="121.42" width="1.61" height="1.57" fill="#482475"/>
<rect x="230.97" y="119.90" width="1.61" height="1.57" fill="#461264"/>
<rect x="235.64" y="119.90" width="1.61" height="1.57" fill="#461264"/>
<rect x="240.32" y="119.90" width="1.61" height="1.57" fill="#461264"/>
<rect x="245.00" y="119.90" width="1.61" height="1.57" fill="#461264"/>
<rect x="246.56" y="119.90" width="1.61" height="1.57" fill="#461264"/>
<rect x="248.12" y="119.90" width="1.61" height="1.57" fill="#44347e"/>
<rect x="249.67" y="119.90" width="1.61" height="1.57" fill="#461264"/>
<rect x="251.23" y="119.90" width="1.61" height="1.57" fill="#461264"/>
<rect x="252.79" y="119.90" width="1.61" height="1.57" fill="#471b6d"/>
<rect x="254.35" y="119.90" width="1.61" height="1.57" fill="#461264"/>
<rect x="269.94" y="119.90" width="1.61" height="1.57" fill="#461264"/>
<rect x="296.44" y="119.90" width="1.61" height="1.57" fill="#482475"/>
<rect x="235.64" y="118.38" width="1.61" height="1.57" fill="#461264"/>
<rect x="237.20" y="118.38" width="1.61" height="1.57" fill="#471b6d"/>
<rect x="240.32" y="118.38" width="1.61" height="1.57" fill="#44347e"/>
<rect x="241.88" y="118.38" width="1.61" height="1.57" fill="#471b6d"/>
<rect x="243.44" y="118.38" width="1.61" height="1.57" fill="#461264"/>
<rect x="245.00" y="118.38" width="1.61" height="1.57" fill="#461264"/>
<rect x="246.56" y="118.38" width="1.61" height="1.57" fill="#461264"/>
<rect x="249.67" y="118.38" width="1.61" height="1.57" fill="#461264"/>
<rect x="254.35" y="118.38" width="1.61" height="1.57" fill="#44347e"/>
<rect x="263.70" y="118.38" width="1.61" height="1.57" fill="#471b6d"/>
<rect x="212.26" y="116.85" width="1.61" height="1.57" fill="#461264"/>
<rect x="229.41" y="116.85" width="1.61" height="1.57" fill="#471b6d"/>
<rect x="230.97" y="116.85" width="1.61" height="1.57" fill="#461264"/>
<rect x="232.53" y="116.85" width="1.61" height="1.57" fill="#461264"/>
<rect x="234.09" y="116.85" width="1.61" height="1.57" fill="#461264"/>
<rect x="235.64" y="116.85" width="1.61" height="1.57" fill="#461264"/>
<rect x="237.20" y="116.85" width="1.61" height="1.57" fill="#471b6d"/>
<rect x="238.76" y="116.85" width="1.61" height="1.57" fill="#461264"/>
<rect x="240.32" y="116.85" width="1.61" height="1.57" fill="#461264"/>
<rect x="241.88" y="116.85" width="1.61" height="1.57" fill="#471b6d"/>
<rect x="243.44" y="116.85" width="1.61" height="1.57" fill="#461264"/>
<rect x="246.56" y="116.85" width="1.61" height="1.57" fill="#44347e"/>
<rect x="251.23" y="116.85" width="1.61" height="1.57" fill="#482475"/>
<rect x="259.03" y="116.85" width="1.61" height="1.57" fill="#461264"/>
<rect x="263.70" y="116.85" width="1.61" height="1.57" fill="#461264"/>
<rect x="202.91" y="115.32" width="1.61" height="1.57" fill="#461264"/>
<rect x="216.94" y="115.32" width="1.61" height="1.57" fill="#461264"/>
<rect x="224.73" y="115.32" width="1.61" height="1.57" fill="#461264"/>
<rect x="229.41" y="115.32" width="1.61" height="1.57" fill="#471b6d"/>
<rect x="230.97" y="115.32" width="1.61" height="1.57" fill="#471b6d"/>
<rect x="232.53" y="115.32" width="1.61" height="1.57" fill="#471b6d"/>
<rect x="234.09" y="115.32" width="1.61" height="1.57" fill="#482475"/>
<rect x="235.64" y="115.32" width="1.61" height="1.57" fill="#3b528a"/>
<rect x="237.20" y="115.32" width="1.61" height="1.57" fill="#471b6d"/>
<rect x="238.76" y="115.32" width="1.61" height="1.57" fill="#471b6d"/>
<rect x="240.32" y="115.32" width="1.61" height="1.57" fill="#471b6d"/>
<rect x="245.00" y="115.32" width="1.61" height="1.57" fill="#461264"/>
<rect x="248.12" y="115.32" width="1.61" height="1.57" fill="#461264"/>
<rect x="249.67" y="115.32" width="1.61" height="1.57" fill="#461264"/>
<rect x="254.35" y="115.32" width="1.61" height="1.57" fill="#471b6d"/>
<rect x="255.91" y="115.32" width="1.61" height="1.57" fill="#461264"/>
<rect x="260.58" y="115.32" width="1.61" height="1.57" fill="#471b6d"/>
<rect x="204.47" y="113.80" width="1.61" height="1.57" fill="#471b6d"/>
<rect x="220.06" y="113.80" width="1.61" height="1.57" fill="#461264"/>
<rect x="226.29" y="113.80" width="1.61" height="1.57" fill="#461264"/>
<rect x="227.85" y="113.80" width="1.61" height="1.57" fill="#461264"/>
<rect x="229.41" y="113.80" width="1.61" height="1.57" fill="#461264"/>
<rect x="230.97" y="113.80" width="1.61" height="1.57" fill="#461264"/>
<rect x="232.53" y="113.80" width="1.61" height="1.57" fill="#44347e"/>
<rect x="234.09" y="113.80" width="1.61" height="1.57" fill="#462c7a"/>
<rect x="235.64" y="113.80" width="1.61" height="1.57" fill="#461264"/>
<rect x="237.20" y="113.80" width="1.61" height="1.57" fill="#482475"/>
<rect x="238.76" y="113.80" width="1.61" height="1.57" fill="#482475"/>
<rect x="240.32" y="113.80" width="1.61" height="1.57" fill="#471b6d"/>
<rect x="241.88" y="113.80" width="1.61" height="1.57" fill="#482475"/>
<rect x="245.00" y="113.80" width="1.61" height="1.57" fill="#44347e"/>
<rect x="246.56" y="113.80" width="1.61" height="1.57" fill="#44347e"/>
<rect x="249.67" y="113.80" width="1.61" height="1.57" fill="#462c7a"/>
<rect x="251.23" y="113.80" width="1.61" height="1.57" fill="#482475"/>
<rect x="252.79" y="113.80" width="1.61" height="1.57" fill="#461264"/>
<rect x="257.47" y="113.80" width="1.61" height="1.57" fill="#461264"/>
<rect x="265.26" y="113.80" width="1.61" height="1.57" fill="#471b6d"/>
<rect x="269.94" y="113.80" width="1.61" height="1.57" fill="#471b6d"/>
<rect x="301.11" y="113.80" width="1.61" height="1.57" fill="#461264"/>
<rect x="310.46" y="113.80" width="1.61" height="1.57" fill="#471b6d"/>
<rect x="215.38" y="112.27" width="1.61" height="1.57" fill="#44347e"/>
<rect x="218.50" y="112.27" width="1.61" height="1.57" fill="#461264"/>
<rect x="224.73" y="112.27" width="1.61" height="1.57" fill="#461264"/>
<rect x="226.29" y="112.27" width="1.61" height="1.57" fill="#461264"/>
<rect x="227.85" y="112.27" width="1.61" height="1.57" fill="#482475"/>
<rect x="230.97" y="112.27" width="1.61" height="1.57" fill="#461264"/>
<rect x="232.53" y="112.27" width="1.61" height="1.57" fill="#433c82"/>
<rect x="234.09" y="112.27" width="1.61" height="1.57" fill="#433c82"/>
<rect x="235.64" y="112.27" width="1.61" height="1.57" fill="#3b528a"/>
<rect x="237.20" y="112.27" width="1.61" height="1.57" fill="#462c7a"/>
<rect x="238.76" y="112.27" width="1.61" height="1.57" fill="#471b6d"/>
<rect x="240.32" y="112.27" width="1.61" height="1.57" fill="#461264"/>
<rect x="241.88" y="112.27" width="1.61" height="1.57" fill="#462c7a"/>
<rect x="243.44" y="112.27" width="1.61" height="1.57" fill="#462c7a"/>
<rect x="245.00" y="112.27" width="1.61" height="1.57" fill="#461264"/>
<rect x="246.56" y="112.27" width="1.61" height="1.57" fill="#471b6d"/>
<rect x="251.23" y="112.27" width="1.61" height="1.57" fill="#462c7a"/>
<rect x="254.35" y="112.27" width="1.61" height="1.57" fill="#461264"/>
<rect x="259.03" y="112.27" width="1.61" height="1.57" fill="#462c7a"/>
<rect x="263.70" y="112.27" width="1.61" height="1.57" fill="#461264"/>
<rect x="218.50" y="110.75" width="1.61" height="1.57" fill="#461264"/>
<rect x="220.06" y="110.75" width="1.61" height="1.57" fill="#462c7a"/>
<rect x="221.62" y="110.75" width="1.61" height="1.57" fill="#461264"/>
<rect x="223.18" y="110.75" width="1.61" height="1.57" fill="#461264"/>
<rect x="224.73" y="110.75" width="1.61" height="1.57" fill="#461264"/>
<rect x="226.29" y="110.75" width="1.61" height="1.57" fill="#433c82"/>
<rect x="227.85" y="110.75" width="1.61" height="1.57" fill="#461264"/>
<rect x="229.41" y="110.75" width="1.61" height="1.57" fill="#38588c"/>
<rect x="230.97" y="110.75" width="1.61" height="1.57" fill="#44347e"/>
<rect x="232.53" y="110.75" width="1.61" height="1.57" fill="#44347e"/>
<rect x="234.09" y="110.75" width="1.61" height="1.57" fill="#44347e"/>
<rect x="235.64" y="110.75" width="1.61" height="1.57" fill="#414487"/>
<rect x="237.20" y="110.75" width="1.61" height="1.57" fill="#44347e"/>
<rect x="238.76" y="110.75" width="1.61" height="1.57" fill="#462c7a"/>
<rect x="240.32" y="110.75" width="1.61" height="1.57" fill="#433c82"/>
<rect x="241.88" y="110.75" width="1.61" height="1.57" fill="#3b528a"/>
<rect x="243.44" y="110.75" width="1.61" height="1.57" fill="#462c7a"/>
<rect x="245.00" y="110.75" width="1.61" height="1.57" fill="#471b6d"/>
<rect x="246.56" y="110.75" width="1.61" height="1.57" fill="#471b6d"/>
<rect x="249.67" y="110.75" width="1.61" height="1.57" fill="#462c7a"/>
<rect x="251.23" y="110.75" width="1.61" height="1.57" fill="#461264"/>
<rect x="257.47" y="110.75" width="1.61" height="1.57" fill="#461264"/>
<rect x="199.79" y="109.22" width="1.61" height="1.57" fill="#461264"/>
<rect x="212.26" y="109.22" width="1.61" height="1.57" fill="#461264"/>
<rect x="213.82" y="109.22" width="1.61" height="1.57" fill="#461264"/>
<rect x="216.94" y="109.22" width="1.61" height="1.57" fill="#461264"/>
<rect x="218.50" y="109.22" width="1.61" height="1.57" fill="#461264"/>
<rect x="220.06" y="109.22" width="1.61" height="1.57" fill="#461264"/>
<rect x="221.62" y="109.22" width="1.61" height="1.57" fill="#461264"/>
<rect x="223.18" y="109.22" width="1.61" height="1.57" fill="#3e4b88"/>
<rect x="224.73" y="109.22" width="1.61" height="1.57" fill="#44347e"/>
<rect x="226.29" y="109.22" width="1.61" height="1.57" fill="#482475"/>
<rect x="227.85" y="109.22" width="1.61" height="1.57" fill="#3e4b88"/>
<rect x="229.41" y="109.22" width="1.61" height="1.57" fill="#3b528a"/>
<rect x="230.97" y="109.22" width="1.61" height="1.57" fill="#3b528a"/>
<rect x="232.53" y="109.22" width="1.61" height="1.57" fill="#44347e"/>
<rect x="234.09" y="109.22" width="1.61" height="1.57" fill="#44347e"/>
<rect x="235.64" y="109.22" width="1.61" height="1.57" fill="#414487"/>
<rect x="237.20" y="109.22" width="1.61" height="1.57" fill="#44347e"/>
<rect x="238.76" y="109.22" width="1.61" height="1.57" fill="#462c7a"/>
<rect x="240.32" y="109.22" width="1.61" height="1.57" fill="#44347e"/>
<rect x="241.88" y="109.22" width="1.61" height="1.57" fill="#462c7a"/>
<rect x="243.44" y="109.22" width="1.61" height="1.57" fill="#471b6d"/>
<rect x="245.00" y="109.22" width="1.61" height="1.57" fill="#482475"/>
<rect x="248.12" y="109.22" width="1.61" height="1.57" fill="#461264"/>
<rect x="249.67" y="109.22" width="1.61" height="1.57" fill="#461264"/>
<rect x="251.23" y="109.22" width="1.61" height="1.57" fill="#471b6d"/>
<rect x="254.35" y="109.22" width="1.61" height="1.57" fill="#461264"/>
<rect x="257.47" y="109.22" width="1.61" height="1.57" fill="#44347e"/>
<rect x="260.58" y="109.22" width="1.61" height="1.57" fill="#461264"/>
<rect x="277.73" y="109.22" width="1.61" height="1.57" fill="#482475"/>
<rect x="220.06" y="107.70" width="1.61" height="1.57" fill="#482475"/>
<rect x="221.62" y="107.70" width="1.61" height="1.57" fill="#471b6d"/>
<rect x="223.18" y="107.70" width="1.61" height="1.57" fill="#471b6d"/>
<rect x="224.73" y="107.70" width="1.61" height="1.57" fill="#414487"/>
<rect x="226.29" y="107.70" width="1.61" height="1.57" fill="#287e8e"/>
<rect x="227.85" y="107.70" width="1.61" height="1.57" fill="#306c8e"/>
<rect x="229.41" y="107.70" width="1.61" height="1.57" fill="#433c82"/>
<rect x="230.97" y="107.70" width="1.61" height="1.57" fill="#32658d"/>
<rect x="232.53" y="107.70" width="1.61" height="1.57" fill="#44347e"/>
<rect x="234.09" y="107.70" width="1.61" height="1.57" fill="#44347e"/>
<rect x="235.64" y="107.70" width="1.61" height="1.57" fill="#3e4b88"/>
<rect x="237.20" y="107.70" width="1.61" height="1.57" fill="#44347e"/>
<rect x="238.76" y="107.70" width="1.61" height="1.57" fill="#482475"/>
<rect x="240.32" y="107.70" width="1.61" height="1.57" fill="#462c7a"/>
<rect x="241.88" y="107.70" width="1.61" height="1.57" fill="#482475"/>
<rect x="243.44" y="107.70" width="1.61" height="1.57" fill="#462c7a"/>
<rect x="245.00" y="107.70" width="1.61" height="1.57" fill="#461264"/>
<rect x="248.12" y="107.70" width="1.61" height="1.57" fill="#482475"/>
<rect x="249.67" y="107.70" width="1.61" height="1.57" fill="#471b6d"/>
<rect x="251.23" y="107.70" width="1.61" height="1.57" fill="#461264"/>
<rect x="252.79" y="107.70" width="1.61" height="1.57" fill="#461264"/>
<rect x="255.91" y="107.70" width="1.61" height="1.57" fill="#461264"/>
<rect x="265.26" y="107.70" width="1.61" height="1.57" fill="#461264"/>
<rect x="196.68" y="106.17" width="1.61" height="1.57" fill="#471b6d"/>
<rect x="215.38" y="106.17" width="1.61" height="1.57" fill="#482475"/>
<rect x="216.94" y="106.17" width="1.61" height="1.57" fill="#461264"/>
<rect x="218.50" y="106.17" width="1.61" height="1.57" fill="#471b6d"/>
<rect x="220.06" y="106.17" width="1.61" height="1.57" fill="#462c7a"/>
<rect x="221.62" y="106.17" width="1.61" height="1.57" fill="#433c82"/>
<rect x="223.18" y="106.17" width="1.61" height="1.57" fill="#414487"/>
<rect x="224.73" y="106.17" width="1.61" height="1.57" fill="#44347e"/>
<rect x="226.29" y="106.17" width="1.61" height="1.57" fill="#2a788e"/>
<rect x="227.85" y="106.17" width="1.61" height="1.57" fill="#238b8c"/>
<rect x="229.41" y="106.17" width="1.61" height="1.57" fill="#306c8e"/>
<rect x="230.97" y="106.17" width="1.61" height="1.57" fill="#32658d"/>
<rect x="232.53" y="106.17" width="1.61" height="1.57" fill="#3b528a"/>
<rect x="234.09" y="106.17" width="1.61" height="1.57" fill="#38588c"/>
<rect x="235.64" y="106.17" width="1.61" height="1.57" fill="#3b528a"/>
<rect x="237.20" y="106.17" width="1.61" height="1.57" fill="#414487"/>
<rect x="238.76" y="106.17" width="1.61" height="1.57" fill="#44347e"/>
<rect x="241.88" y="106.17" width="1.61" height="1.57" fill="#462c7a"/>
<rect x="243.44" y="106.17" width="1.61" height="1.57" fill="#462c7a"/>
<rect x="245.00" y="106.17" width="1.61" height="1.57" fill="#461264"/>
<rect x="246.56" y="106.17" width="1.61" height="1.57" fill="#461264"/>
<rect x="248.12" y="106.17" width="1.61" height="1.57" fill="#461264"/>
<rect x="254.35" y="106.17" width="1.61" height="1.57" fill="#461264"/>
<rect x="259.03" y="106.17" width="1.61" height="1.57" fill="#461264"/>
<rect x="266.82" y="106.17" width="1.61" height="1.57" fill="#461264"/>
<rect x="202.91" y="104.65" width="1.61" height="1.57" fill="#461264"/>
<rect x="210.70" y="104.65" width="1.61" height="1.57" fill="#482475"/>
<rect x="212.26" y="104.65" width="1.61" height="1.57" fill="#461264"/>
<rect x="213.82" y="104.65" width="1.61" height="1.57" fill="#461264"/>
<rect x="216.94" y="104.65" width="1.61" height="1.57" fill="#44347e"/>
<rect x="218.50" y="104.65" width="1.61" height="1.57" fill="#471b6d"/>
<rect x="220.06" y="104.65" width="1.61" height="1.57" fill="#433c82"/>
<rect x="221.62" y="104.65" width="1.61" height="1.57" fill="#3b528a"/>
<rect x="223.18" y="104.65" width="1.61" height="1.57" fill="#44347e"/>
<rect x="224.73" y="104.65" width="1.61" height="1.57" fill="#38588c"/>
<rect x="226.29" y="104.65" width="1.61" height="1.57" fill="#26848d"/>
<rect x="227.85" y="104.65" width="1.61" height="1.57" fill="#26848d"/>
<rect x="229.41" y="104.65" width="1.61" height="1.57" fill="#306c8e"/>
<rect x="230.97" y="104.65" width="1.61" height="1.57" fill="#2d728e"/>
<rect x="232.53" y="104.65" width="1.61" height="1.57" fill="#3b528a"/>
<rect x="234.09" y="104.65" width="1.61" height="1.57" fill="#2d728e"/>
<rect x="235.64" y="104.65" width="1.61" height="1.57" fill="#44347e"/>
<rect x="237.20" y="104.65" width="1.61" height="1.57" fill="#414487"/>
<rect x="238.76" y="104.65" width="1.61" height="1.57" fill="#44347e"/>
<rect x="240.32" y="104.65" width="1.61" height="1.57" fill="#471b6d"/>
<rect x="241.88" y="104.65" width="1.61" height="1.57" fill="#471b6d"/>
<rect x="243.44" y="104.65" width="1.61" height="1.57" fill="#462c7a"/>
<rect x="245.00" y="104.65" width="1.61" height="1.57" fill="#461264"/>
<rect x="246.56" y="104.65" width="1.61" height="1.57" fill="#482475"/>
<rect x="248.12" y="104.65" width="1.61" height="1.57" fill="#414487"/>
<rect x="249.67" y="104.65" width="1.61" height="1.57" fill="#461264"/>
<rect x="252.79" y="104.65" width="1.61" height="1.57" fill="#461264"/>
<rect x="259.03" y="104.65" width="1.61" height="1.57" fill="#461264"/>
<rect x="271.50" y="104.65" width="1.61" height="1.57" fill="#471b6d"/>
<rect x="287.08" y="104.65" width="1.61" height="1.57" fill="#471b6d"/>
<rect x="212.26" y="103.12" width="1.61" height="1.57" fill="#355f8d"/>
<rect x="213.82" y="103.12" width="1.61" height="1.57" fill="#482475"/>
<rect x="215.38" y="103.12" width="1.61" height="1.57" fill="#461264"/>
<rect x="216.94" y="103.12" width="1.61" height="1.57" fill="#44347e"/>
<rect x="218.50" y="103.12" width="1.61" height="1.57" fill="#482475"/>
<rect x="220.06" y="103.12" width="1.61" height="1.57" fill="#433c82"/>
<rect x="221.62" y="103.12" width="1.61" height="1.57" fill="#2d728e"/>
<rect x="223.18" y="103.12" width="1.61" height="1.57" fill="#355f8d"/>
<rect x="224.73" y="103.12" width="1.61" height="1.57" fill="#26848d"/>
<rect x="226.29" y="103.12" width="1.61" height="1.57" fill="#238b8c"/>
<rect x="227.85" y="103.12" width="1.61" height="1.57" fill="#306c8e"/>
<rect x="229.41" y="103.12" width="1.61" height="1.57" fill="#26848d"/>
<rect x="230.97" y="103.12" width="1.61" height="1.57" fill="#26848d"/>
<rect x="232.53" y="103.12" width="1.61" height="1.57" fill="#2d728e"/>
<rect x="234.09" y="103.12" width="1.61" height="1.57" fill="#38588c"/>
<rect x="235.64" y="103.12" width="1.61" height="1.57" fill="#44347e"/>
<rect x="237.20" y="103.12" width="1.61" height="1.57" fill="#44347e"/>
<rect x="238.76" y="103.12" width="1.61" height="1.57" fill="#462c7a"/>
<rect x="240.32" y="103.12" width="1.61" height="1.57" fill="#471b6d"/>
<rect x="245.00" y="103.12" width="1.61" height="1.57" fill="#482475"/>
<rect x="246.56" y="103.12" width="1.61" height="1.57" fill="#461264"/>
<rect x="248.12" y="103.12" width="1.61" height="1.57" fill="#461264"/>
<rect x="254.35" y="103.12" width="1.61" height="1.57" fill="#461264"/>
<rect x="274.61" y="103.12" width="1.61" height="1.57" fill="#461264"/>
<rect x="209.15" y="101.60" width="1.61" height="1.57" fill="#461264"/>
<rect x="210.70" y="101.60" width="1.61" height="1.57" fill="#461264"/>
<rect x="212.26" y="101.60" width="1.61" height="1.57" fill="#461264"/>
<rect x="213.82" y="101.60" width="1.61" height="1.57" fill="#471b6d"/>
<rect x="215.38" y="101.60" width="1.61" height="1.57" fill="#461264"/>
<rect x="216.94" y="101.60" width="1.61" height="1.57" fill="#414487"/>
<rect x="218.50" y="101.60" width="1.61" height="1.57" fill="#355f8d"/>
<rect x="220.06" y="101.60" width="1.61" height="1.57" fill="#3b528a"/>
<rect x="221.62" y="101.60" width="1.61" height="1.57" fill="#306c8e"/>
<rect x="223.18" y="101.60" width="1.61" height="1.57" fill="#52c468"/>
<rect x="224.73" y="101.60" width="1.61" height="1.57" fill="#7ad151"/>
<rect x="226.29" y="101.60" width="1.61" height="1.57" fill="#9cd83c"/>
<rect x="227.85" y="101.60" width="1.61" height="1.57" fill="#52c468"/>
<rect x="229.41" y="101.60" width="1.61" height="1.57" fill="#44bf70"/>
<rect x="230.97" y="101.60" width="1.61" height="1.57" fill="#21918c"/>
<rect x="232.53" y="101.60" width="1.61" height="1.57" fill="#287e8e"/>
<rect x="234.09" y="101.60" width="1.61" height="1.57" fill="#3b528a"/>
<rect x="235.64" y="101.60" width="1.61" height="1.57" fill="#433c82"/>
<rect x="237.20" y="101.60" width="1.61" height="1.57" fill="#44347e"/>
<rect x="238.76" y="101.60" width="1.61" height="1.57" fill="#482475"/>
<rect x="240.32" y="101.60" width="1.61" height="1.57" fill="#44347e"/>
<rect x="241.88" y="101.60" width="1.61" height="1.57" fill="#471b6d"/>
<rect x="243.44" y="101.60" width="1.61" height="1.57" fill="#471b6d"/>
<rect x="245.00" y="101.60" width="1.61" height="1.57" fill="#482475"/>
<rect x="246.56" y="101.60" width="1.61" height="1.57" fill="#461264"/>
<rect x="249.67" y="101.60" width="1.61" height="1.57" fill="#462c7a"/>
<rect x="252.79" y="101.60" width="1.61" height="1.57" fill="#471b6d"/>
<rect x="262.14" y="101.60" width="1.61" height="1.57" fill="#461264"/>
<rect x="207.59" y="100.07" width="1.61" height="1.57" fill="#461264"/>
<rect x="210.70" y="100.07" width="1.61" height="1.57" fill="#461264"/>
<rect x="212.26" y="100.07" width="1.61" height="1.57" fill="#482475"/>
<rect x="213.82" y="100.07" width="1.61" height="1.57" fill="#471b6d"/>
<rect x="215.38" y="100.07" width="1.61" height="1.57" fill="#462c7a"/>
<rect x="216.94" y="100.07" width="1.61" height="1.57" fill="#44347e"/>
<rect x="218.50" y="100.07" width="1.61" height="1.57" fill="#3b528a"/>
<rect x="220.06" y="100.07" width="1.61" height="1.57" fill="#21918c"/>
<rect x="221.62" y="100.07" width="1.61" height="1.57" fill="#33b47a"/>
<rect x="223.18" y="100.07" width="1.61" height="1.57" fill="#cde126"/>
<rect x="224.73" y="100.07" width="1.61" height="1.57" fill="#fde725"/>
<rect x="226.29" y="100.07" width="1.61" height="1.57" fill="#fde725"/>
<rect x="227.85" y="100.07" width="1.61" height="1.57" fill="#dde326"/>
<rect x="229.41" y="100.07" width="1.61" height="1.57" fill="#229c88"/>
<rect x="230.97" y="100.07" width="1.61" height="1.57" fill="#229c88"/>
<rect x="232.53" y="100.07" width="1.61" height="1.57" fill="#2d728e"/>
<rect x="234.09" y="100.07" width="1.61" height="1.57" fill="#3e4b88"/>
<rect x="235.64" y="100.07" width="1.61" height="1.57" fill="#44347e"/>
<rect x="237.20" y="100.07" width="1.61" height="1.57" fill="#433c82"/>
<rect x="238.76" y="100.07" width="1.61" height="1.57" fill="#3b528a"/>
<rect x="240.32" y="100.07" width="1.61" height="1.57" fill="#414487"/>
<rect x="241.88" y="100.07" width="1.61" height="1.57" fill="#461264"/>
<rect x="243.44" y="100.07" width="1.61" height="1.57" fill="#44347e"/>
<rect x="245.00" y="100.07" width="1.61" height="1.57" fill="#461264"/>
<rect x="246.56" y="100.07" width="1.61" height="1.57" fill="#461264"/>
<rect x="248.12" y="100.07" width="1.61" height="1.57" fill="#461264"/>
<rect x="251.23" y="100.07" width="1.61" height="1.57" fill="#44347e"/>
<rect x="257.47" y="100.07" width="1.61" height="1.57" fill="#482475"/>
<rect x="206.03" y="98.55" width="1.61" height="1.57" fill="#461264"/>
<rect x="210.70" y="98.55" width="1.61" height="1.57" fill="#482475"/>
<rect x="212.26" y="98.55" width="1.61" height="1.57" fill="#482475"/>
<rect x="213.82" y="98.55" width="1.61" height="1.57" fill="#471b6d"/>
<rect x="215.38" y="98.55" width="1.61" height="1.57" fill="#461264"/>
<rect x="216.94" y="98.55" width="1.61" height="1.57" fill="#32658d"/>
<rect x="218.50" y="98.55" width="1.61" height="1.57" fill="#3b528a"/>
<rect x="220.06" y="98.55" width="1.61" height="1.57" fill="#3cb975"/>
<rect x="221.62" y="98.55" width="1.61" height="1.57" fill="#6ccc59"/>
<rect x="223.18" y="98.55" width="1.61" height="1.57" fill="#ede525"/>
<rect x="224.73" y="98.55" width="1.61" height="1.57" fill="#fde725"/>
<rect x="226.29" y="98.55" width="1.61" height="1.57" fill="#fde725"/>
<rect x="227.85" y="98.55" width="1.61" height="1.57" fill="#5fc860"/>
<rect x="229.41" y="98.55" width="1.61" height="1.57" fill="#44bf70"/>
<rect x="230.97" y="98.55" width="1.61" height="1.57" fill="#287e8e"/>
<rect x="232.53" y="98.55" width="1.61" height="1.57" fill="#3b528a"/>
<rect x="234.09" y="98.55" width="1.61" height="1.57" fill="#44347e"/>
<rect x="235.64" y="98.55" width="1.61" height="1.57" fill="#3b528a"/>
<rect x="237.20" y="98.55" width="1.61" height="1.57" fill="#3e4b88"/>
<rect x="238.76" y="98.55" width="1.61" height="1.57" fill="#462c7a"/>
<rect x="240.32" y="98.55" width="1.61" height="1.57" fill="#44347e"/>
<rect x="243.44" y="98.55" width="1.61" height="1.57" fill="#461264"/>
<rect x="245.00" y="98.55" width="1.61" height="1.57" fill="#471b6d"/>
<rect x="246.56" y="98.55" width="1.61" height="1.57" fill="#461264"/>
<rect x="251.23" y="98.55" width="1.61" height="1.57" fill="#471b6d"/>
<rect x="255.91" y="98.55" width="1.61" height="1.57" fill="#461264"/>
<rect x="204.47" y="97.03" width="1.61" height="1.57" fill="#461264"/>
<rect x="210.70" y="97.03" width="1.61" height="1.57" fill="#461264"/>
<rect x="212.26" y="97.03" width="1.61" height="1.57" fill="#461264"/>
<rect x="213.82" y="97.03" width="1.61" height="1.57" fill="#462c7a"/>
<rect x="215.38" y="97.03" width="1.61" height="1.57" fill="#433c82"/>
<rect x="216.94" y="97.03" width="1.61" height="1.57" fill="#433c82"/>
<rect x="218.50" y="97.03" width="1.61" height="1.57" fill="#287e8e"/>
<rect x="220.06" y="97.03" width="1.61" height="1.57" fill="#238b8c"/>
<rect x="221.62" y="97.03" width="1.61" height="1.57" fill="#33b47a"/>
<rect x="223.18" y="97.03" width="1.61" height="1.57" fill="#cde126"/>
<rect x="224.73" y="97.03" width="1.61" height="1.57" fill="#8bd446"/>
<rect x="226.29" y="97.03" width="1.61" height="1.57" fill="#7ad151"/>
<rect x="227.85" y="97.03" width="1.61" height="1.57" fill="#238b8c"/>
<rect x="229.41" y="97.03" width="1.61" height="1.57" fill="#229c88"/>
<rect x="230.97" y="97.03" width="1.61" height="1.57" fill="#355f8d"/>
<rect x="232.53" y="97.03" width="1.61" height="1.57" fill="#355f8d"/>
<rect x="234.09" y="97.03" width="1.61" height="1.57" fill="#44347e"/>
<rect x="235.64" y="97.03" width="1.61" height="1.57" fill="#471b6d"/>
<rect x="237.20" y="97.03" width="1.61" height="1.57" fill="#462c7a"/>
<rect x="238.76" y="97.03" width="1.61" height="1.57" fill="#461264"/>
<rect x="241.88" y="97.03" width="1.61" height="1.57" fill="#462c7a"/>
<rect x="243.44" y="97.03" width="1.61" height="1.57" fill="#471b6d"/>
<rect x="245.00" y="97.03" width="1.61" height="1.57" fill="#471b6d"/>
<rect x="252.79" y="97.03" width="1.61" height="1.57" fill="#461264"/>
<rect x="206.03" y="95.50" width="1.61" height="1.57" fill="#461264"/>
<rect x="210.70" y="95.50" width="1.61" height="1.57" fill="#482475"/>
<rect x="213.82" y="95.50" width="1.61" height="1.57" fill="#462c7a"/>
<rect x="215.38" y="95.50" width="1.61" height="1.57" fill="#462c7a"/>
<rect x="216.94" y="95.50" width="1.61" height="1.57" fill="#44347e"/>
<rect x="218.50" y="95.50" width="1.61" height="1.57" fill="#238b8c"/>
<rect x="220.06" y="95.50" width="1.61" height="1.57" fill="#26848d"/>
<rect x="221.62" y="95.50" width="1.61" height="1.57" fill="#2a788e"/>
<rect x="223.18" y="95.50" width="1.61" height="1.57" fill="#229c88"/>
<rect x="224.73" y="95.50" width="1.61" height="1.57" fill="#21918c"/>
<rect x="226.29" y="95.50" width="1.61" height="1.57" fill="#287e8e"/>
<rect x="227.85" y="95.50" width="1.61" height="1.57" fill="#26848d"/>
<rect x="229.41" y="95.50" width="1.61" height="1.57" fill="#32658d"/>
<rect x="230.97" y="95.50" width="1.61" height="1.57" fill="#3b528a"/>
<rect x="232.53" y="95.50" width="1.61" height="1.57" fill="#462c7a"/>
<rect x="234.09" y="95.50" width="1.61" height="1.57" fill="#3e4b88"/>
<rect x="235.64" y="95.50" width="1.61" height="1.57" fill="#44347e"/>
<rect x="237.20" y="95.50" width="1.61" height="1.57" fill="#461264"/>
<rect x="238.76" y="95.50" width="1.61" height="1.57" fill="#44347e"/>
<rect x="240.32" y="95.50" width="1.61" height="1.57" fill="#461264"/>
<rect x="241.88" y="95.50" width="1.61" height="1.57" fill="#471b6d"/>
<rect x="243.44" y="95.50" width="1.61" height="1.57" fill="#471b6d"/>
<rect x="259.03" y="95.50" width="1.61" height="1.57" fill="#471b6d"/>
<rect x="198.24" y="93.97" width="1.61" height="1.57" fill="#461264"/>
<rect x="209.15" y="93.97" width="1.61" height="1.57" fill="#461264"/>
<rect x="210.70" y="93.97" width="1.61" height="1.57" fill="#462c7a"/>
<rect x="213.82" y="93.97" width="1.61" height="1.57" fill="#433c82"/>
<rect x="215.38" y="93.97" width="1.61" height="1.57" fill="#3b528a"/>
<rect x="216.94" y="93.97" width="1.61" height="1.57" fill="#3e4b88"/>
<rect x="218.50" y="93.97" width="1.61" height="1.57" fill="#38588c"/>
<rect x="220.06" y="93.97" width="1.61" height="1.57" fill="#32658d"/>
<rect x="221.62" y="93.97" width="1.61" height="1.57" fill="#21918c"/>
<rect x="223.18" y="93.97" width="1.61" height="1.57" fill="#32658d"/>
<rect x="224.73" y="93.97" width="1.61" height="1.57" fill="#2d728e"/>
<rect x="226.29" y="93.97" width="1.61" height="1.57" fill="#355f8d"/>
<rect x="227.85" y="93.97" width="1.61" height="1.57" fill="#32658d"/>
<rect x="229.41" y="93.97" width="1.61" height="1.57" fill="#44347e"/>
<rect x="230.97" y="93.97" width="1.61" height="1.57" fill="#355f8d"/>
<rect x="232.53" y="93.97" width="1.61" height="1.57" fill="#44347e"/>
<rect x="234.09" y="93.97" width="1.61" height="1.57" fill="#462c7a"/>
<rect x="237.20" y="93.97" width="1.61" height="1.57" fill="#461264"/>
<rect x="240.32" y="93.97" width="1.61" height="1.57" fill="#461264"/>
<rect x="243.44" y="93.97" width="1.61" height="1.57" fill="#461264"/>
<rect x="269.94" y="93.97" width="1.61" height="1.57" fill="#482475"/>
<rect x="285.52" y="93.97" width="1.61" height="1.57" fill="#471b6d"/>
<rect x="305.79" y="93.97" width="1.61" height="1.57" fill="#461264"/>
<rect x="201.35" y="92.45" width="1.61" height="1.57" fill="#471b6d"/>
<rect x="202.91" y="92.45" width="1.61" height="1.57" fill="#461264"/>
<rect x="204.47" y="92.45" width="1.61" height="1.57" fill="#461264"/>
<rect x="207.59" y="92.45" width="1.61" height="1.57" fill="#461264"/>
<rect x="209.15" y="92.45" width="1.61" height="1.57" fill="#461264"/>
<rect x="210.70" y="92.45" width="1.61" height="1.57" fill="#482475"/>
<rect x="212.26" y="92.45" width="1.61" height="1.57" fill="#414487"/>
<rect x="213.82" y="92.45" width="1.61" height="1.57" fill="#433c82"/>
<rect x="215.38" y="92.45" width="1.61" height="1.57" fill="#462c7a"/>
<rect x="216.94" y="92.45" width="1.61" height="1.57" fill="#3e4b88"/>
<rect x="218.50" y="92.45" width="1.61" height="1.57" fill="#3b528a"/>
<rect x="220.06" y="92.45" width="1.61" height="1.57" fill="#287e8e"/>
<rect x="221.62" y="92.45" width="1.61" height="1.57" fill="#3b528a"/>
<rect x="223.18" y="92.45" width="1.61" height="1.57" fill="#38588c"/>
<rect x="224.73" y="92.45" width="1.61" height="1.57" fill="#32658d"/>
<rect x="226.29" y="92.45" width="1.61" height="1.57" fill="#3b528a"/>
<rect x="227.85" y="92.45" width="1.61" height="1.57" fill="#38588c"/>
<rect x="229.41" y="92.45" width="1.61" height="1.57" fill="#44347e"/>
<rect x="230.97" y="92.45" width="1.61" height="1.57" fill="#471b6d"/>
<rect x="232.53" y="92.45" width="1.61" height="1.57" fill="#44347e"/>
<rect x="234.09" y="92.45" width="1.61" height="1.57" fill="#44347e"/>
<rect x="235.64" y="92.45" width="1.61" height="1.57" fill="#461264"/>
<rect x="237.20" y="92.45" width="1.61" height="1.57" fill="#462c7a"/>
<rect x="238.76" y="92.45" width="1.61" height="1.57" fill="#471b6d"/>
<rect x="243.44" y="92.45" width="1.61" height="1.57" fill="#461264"/>
<rect x="245.00" y="92.45" width="1.61" height="1.57" fill="#471b6d"/>
<rect x="195.12" y="90.92" width="1.61" height="1.57" fill="#461264"/>
<rect x="206.03" y="90.92" width="1.61" height="1.57" fill="#461264"/>
<rect x="207.59" y="90.92" width="1.61" height="1.57" fill="#461264"/>
<rect x="210.70" y="90.92" width="1.61" height="1.57" fill="#461264"/>
<rect x="212.26" y="90.92" width="1.61" height="1.57" fill="#471b6d"/>
<rect x="213.82" y="90.92" width="1.61" height="1.57" fill="#3b528a"/>
<rect x="215.38" y="90.92" width="1.61" height="1.57" fill="#2d728e"/>
<rect x="216.94" y="90.92" width="1.61" height="1.57" fill="#433c82"/>
<rect x="218.50" y="90.92" width="1.61" height="1.57" fill="#38588c"/>
<rect x="220.06" y="90.92" width="1.61" height="1.57" fill="#3b528a"/>
<rect x="221.62" y="90.92" width="1.61" height="1.57" fill="#355f8d"/>
<rect x="223.18" y="90.92" width="1.61" height="1.57" fill="#44347e"/>
<rect x="224.73" y="90.92" width="1.61" height="1.57" fill="#38588c"/>
<rect x="226.29" y="90.92" width="1.61" height="1.57" fill="#32658d"/>
<rect x="227.85" y="90.92" width="1.61" height="1.57" fill="#462c7a"/>
<rect x="229.41" y="90.92" width="1.61" height="1.57" fill="#3b528a"/>
<rect x="230.97" y="90.92" width="1.61" height="1.57" fill="#471b6d"/>
<rect x="232.53" y="90.92" width="1.61" height="1.57" fill="#461264"/>
<rect x="234.09" y="90.92" width="1.61" height="1.57" fill="#44347e"/>
<rect x="235.64" y="90.92" width="1.61" height="1.57" fill="#461264"/>
<rect x="237.20" y="90.92" width="1.61" height="1.57" fill="#461264"/>
<rect x="206.03" y="89.40" width="1.61" height="1.57" fill="#461264"/>
<rect x="210.70" y="89.40" width="1.61" height="1.57" fill="#471b6d"/>
<rect x="213.82" y="89.40" width="1.61" height="1.57" fill="#462c7a"/>
<rect x="215.38" y="89.40" width="1.61" height="1.57" fill="#482475"/>
<rect x="216.94" y="89.40" width="1.61" height="1.57" fill="#3e4b88"/>
<rect x="218.50" y="89.40" width="1.61" height="1.57" fill="#414487"/>
<rect x="220.06" y="89.40" width="1.61" height="1.57" fill="#355f8d"/>
<rect x="221.62" y="89.40" width="1.61" height="1.57" fill="#433c82"/>
<rect x="223.18" y="89.40" width="1.61" height="1.57" fill="#462c7a"/>
<rect x="224.73" y="89.40" width="1.61" height="1.57" fill="#462c7a"/>
<rect x="226.29" y="89.40" width="1.61" height="1.57" fill="#461264"/>
<rect x="227.85" y="89.40" width="1.61" height="1.57" fill="#461264"/>
<rect x="229.41" y="89.40" width="1.61" height="1.57" fill="#462c7a"/>
<rect x="230.97" y="89.40" width="1.61" height="1.57" fill="#462c7a"/>
<rect x="232.53" y="89.40" width="1.61" height="1.57" fill="#461264"/>
<rect x="234.09" y="89.40" width="1.61" height="1.57" fill="#461264"/>
<rect x="235.64" y="89.40" width="1.61" height="1.57" fill="#461264"/>
<rect x="237.20" y="89.40" width="1.61" height="1.57" fill="#461264"/>
<rect x="206.03" y="87.88" width="1.61" height="1.57" fill="#461264"/>
<rect x="210.70" y="87.88" width="1.61" height="1.57" fill="#461264"/>
<rect x="212.26" y="87.88" width="1.61" height="1.57" fill="#461264"/>
<rect x="213.82" y="87.88" width="1.61" height="1.57" fill="#461264"/>
<rect x="215.38" y="87.88" width="1.61" height="1.57" fill="#414487"/>
<rect x="216.94" y="87.88" width="1.61" height="1.57" fill="#414487"/>
<rect x="218.50" y="87.88" width="1.61" height="1.57" fill="#462c7a"/>
<rect x="220.06" y="87.88" width="1.61" height="1.57" fill="#3b528a"/>
<rect x="221.62" y="87.88" width="1.61" height="1.57" fill="#462c7a"/>
<rect x="223.18" y="87.88" width="1.61" height="1.57" fill="#414487"/>
<rect x="224.73" y="87.88" width="1.61" height="1.57" fill="#355f8d"/>
<rect x="226.29" y="87.88" width="1.61" height="1.57" fill="#471b6d"/>
<rect x="227.85" y="87.88" width="1.61" height="1.57" fill="#461264"/>
<rect x="229.41" y="87.88" width="1.61" height="1.57" fill="#471b6d"/>
<rect x="230.97" y="87.88" width="1.61" height="1.57" fill="#482475"/>
<rect x="232.53" y="87.88" width="1.61" height="1.57" fill="#461264"/>
<rect x="240.32" y="87.88" width="1.61" height="1.57" fill="#461264"/>
<rect x="248.12" y="87.88" width="1.61" height="1.57" fill="#461264"/>
<rect x="209.15" y="86.35" width="1.61" height="1.57" fill="#461264"/>
<rect x="212.26" y="86.35" width="1.61" height="1.57" fill="#482475"/>
<rect x="213.82" y="86.35" width="1.61" height="1.57" fill="#461264"/>
<rect x="215.38" y="86.35" width="1.61" height="1.57" fill="#414487"/>
<rect x="216.94" y="86.35" width="1.61" height="1.57" fill="#3e4b88"/>
<rect x="218.50" y="86.35" width="1.61" height="1.57" fill="#461264"/>
<rect x="220.06" y="86.35" width="1.61" height="1.57" fill="#461264"/>
<rect x="221.62" y="86.35" width="1.61" height="1.57" fill="#482475"/>
<rect x="223.18" y="86.35" width="1.61" height="1.57" fill="#44347e"/>
<rect x="224.73" y="86.35" width="1.61" height="1.57" fill="#462c7a"/>
<rect x="226.29" y="86.35" width="1.61" height="1.57" fill="#44347e"/>
<rect x="227.85" y="86.35" width="1.61" height="1.57" fill="#471b6d"/>
<rect x="229.41" y="86.35" width="1.61" height="1.57" fill="#461264"/>
<rect x="230.97" y="86.35" width="1.61" height="1.57" fill="#38588c"/>
<rect x="232.53" y="86.35" width="1.61" height="1.57" fill="#461264"/>
<rect x="234.09" y="86.35" width="1.61" height="1.57" fill="#461264"/>
<rect x="260.58" y="86.35" width="1.61" height="1.57" fill="#461264"/>
<rect x="263.70" y="86.35" width="1.61" height="1.57" fill="#462c7a"/>
<rect x="269.94" y="86.35" width="1.61" height="1.57" fill="#461264"/>
<rect x="210.70" y="84.82" width="1.61" height="1.57" fill="#461264"/>
<rect x="213.82" y="84.82" width="1.61" height="1.57" fill="#433c82"/>
<rect x="215.38" y="84.82" width="1.61" height="1.57" fill="#461264"/>
<rect x="216.94" y="84.82" width="1.61" height="1.57" fill="#3e4b88"/>
<rect x="218.50" y="84.82" width="1.61" height="1.57" fill="#414487"/>
<rect x="220.06" y="84.82" width="1.61" height="1.57" fill="#462c7a"/>
<rect x="221.62" y="84.82" width="1.61" height="1.57" fill="#44347e"/>
<rect x="223.18" y="84.82" width="1.61" height="1.57" fill="#461264"/>
<rect x="224.73" y="84.82" width="1.61" height="1.57" fill="#461264"/>
<rect x="226.29" y="84.82" width="1.61" height="1.57" fill="#461264"/>
<rect x="227.85" y="84.82" width="1.61" height="1.57" fill="#461264"/>
<rect x="230.97" y="84.82" width="1.61" height="1.57" fill="#461264"/>
<rect x="232.53" y="84.82" width="1.61" height="1.57" fill="#461264"/>
<rect x="237.20" y="84.82" width="1.61" height="1.57" fill="#3b528a"/>
<rect x="204.47" y="83.30" width="1.61" height="1.57" fill="#461264"/>
<rect x="209.15" y="83.30" width="1.61" height="1.57" fill="#461264"/>
<rect x="212.26" y="83.30" width="1.61" height="1.57" fill="#471b6d"/>
<rect x="216.94" y="83.30" width="1.61" height="1.57" fill="#355f8d"/>
<rect x="218.50" y="83.30" width="1.61" height="1.57" fill="#433c82"/>
<rect x="220.06" y="83.30" width="1.61" height="1.57" fill="#482475"/>
<rect x="221.62" y="83.30" width="1.61" height="1.57" fill="#3e4b88"/>
<rect x="223.18" y="83.30" width="1.61" height="1.57" fill="#433c82"/>
<rect x="229.41" y="83.30" width="1.61" height="1.57" fill="#461264"/>
<rect x="230.97" y="83.30" width="1.61" height="1.57" fill="#461264"/>
<rect x="234.09" y="83.30" width="1.61" height="1.57" fill="#44347e"/>
<rect x="251.23" y="83.30" width="1.61" height="1.57" fill="#461264"/>
<rect x="207.59" y="81.78" width="1.61" height="1.57" fill="#461264"/>
<rect x="212.26" y="81.78" width="1.61" height="1.57" fill="#471b6d"/>
<rect x="213.82" y="81.78" width="1.61" height="1.57" fill="#461264"/>
<rect x="218.50" y="81.78" width="1.61" height="1.57" fill="#461264"/>
<rect x="221.62" y="81.78" width="1.61" height="1.57" fill="#461264"/>
<rect x="230.97" y="81.78" width="1.61" height="1.57" fill="#461264"/>
<rect x="232.53" y="81.78" width="1.61" height="1.57" fill="#461264"/>
<rect x="202.91" y="80.25" width="1.61" height="1.57" fill="#461264"/>
<rect x="213.82" y="80.25" width="1.61" height="1.57" fill="#461264"/>
<rect x="218.50" y="80.25" width="1.61" height="1.57" fill="#461264"/>
<rect x="221.62" y="80.25" width="1.61" height="1.57" fill="#462c7a"/>
<rect x="199.79" y="78.72" width="1.61" height="1.57" fill="#482475"/>
<rect x="209.15" y="78.72" width="1.61" height="1.57" fill="#461264"/>
<rect x="212.26" y="78.72" width="1.61" height="1.57" fill="#461264"/>
<rect x="218.50" y="78.72" width="1.61" height="1.57" fill="#462c7a"/>
<rect x="227.85" y="78.72" width="1.61" height="1.57" fill="#461264"/>
<rect x="245.00" y="78.72" width="1.61" height="1.57" fill="#482475"/>
<rect x="209.15" y="77.20" width="1.61" height="1.57" fill="#461264"/>
<rect x="218.50" y="77.20" width="1.61" height="1.57" fill="#471b6d"/>
<rect x="223.18" y="77.20" width="1.61" height="1.57" fill="#471b6d"/>
<rect x="201.35" y="75.67" width="1.61" height="1.57" fill="#462c7a"/>
<rect x="209.15" y="75.67" width="1.61" height="1.57" fill="#461264"/>
<rect x="210.70" y="75.67" width="1.61" height="1.57" fill="#461264"/>
<rect x="215.38" y="75.67" width="1.61" height="1.57" fill="#461264"/>
<rect x="218.50" y="75.67" width="1.61" height="1.57" fill="#482475"/>
<rect x="212.26" y="74.15" width="1.61" height="1.57" fill="#461264"/>
<rect x="215.38" y="74.15" width="1.61" height="1.57" fill="#471b6d"/>
<rect x="215.38" y="72.62" width="1.61" height="1.57" fill="#3b528a"/>
<rect x="232.53" y="72.62" width="1.61" height="1.57" fill="#482475"/>
<rect x="218.50" y="69.57" width="1.61" height="1.57" fill="#461264"/>
<rect x="195.12" y="66.52" width="1.61" height="1.57" fill="#462c7a"/>
<rect x="202.91" y="66.52" width="1.61" height="1.57" fill="#471b6d"/>
<rect x="218.50" y="66.52" width="1.61" height="1.57" fill="#461264"/>
<rect x="220.06" y="66.52" width="1.61" height="1.57" fill="#461264"/>
<rect x="223.18" y="66.52" width="1.61" height="1.57" fill="#461264"/>
<rect x="263.70" y="65.00" width="1.61" height="1.57" fill="#482475"/>
<rect x="201.35" y="63.47" width="1.61" height="1.57" fill="#482475"/>
<rect x="201.35" y="61.95" width="1.61" height="1.57" fill="#461264"/>
<rect x="269.94" y="60.42" width="1.61" height="1.57" fill="#471b6d"/>
<rect x="304.23" y="60.42" width="1.61" height="1.57" fill="#471b6d"/>
<rect x="210.70" y="57.38" width="1.61" height="1.57" fill="#461264"/>
<rect x="254.35" y="57.38" width="1.61" height="1.57" fill="#471b6d"/>
<rect x="220.06" y="55.85" width="1.61" height="1.57" fill="#461264"/>
<rect x="221.62" y="55.85" width="1.61" height="1.57" fill="#44347e"/>
<rect x="259.03" y="55.85" width="1.61" height="1.57" fill="#471b6d"/>
<rect x="268.38" y="54.33" width="1.61" height="1.57" fill="#482475"/>
<rect x="299.55" y="54.33" width="1.61" height="1.57" fill="#471b6d"/>
<rect x="195.12" y="49.75" width="1.61" height="1.57" fill="#461264"/>
<rect x="224.73" y="49.75" width="1.61" height="1.57" fill="#471b6d"/>
<rect x="201.35" y="46.70" width="1.61" height="1.57" fill="#482475"/>
<rect x="199.79" y="42.12" width="1.61" height="1.57" fill="#462c7a"/>
<rect x="221.62" y="42.12" width="1.61" height="1.57" fill="#461264"/>
<rect x="229.41" y="42.12" width="1.61" height="1.57" fill="#461264"/>
<rect x="293.32" y="42.12" width="1.61" height="1.57" fill="#461264"/>
<rect x="209.15" y="40.60" width="1.61" height="1.57" fill="#461264"/>
<rect x="238.76" y="25.35" width="1.61" height="1.57" fill="#462c7a"/>
<rect x="209.15" y="22.30" width="1.61" height="1.57" fill="#461264"/>
<rect x="201.35" y="20.78" width="1.61" height="1.57" fill="#461264"/>
<rect x="287.08" y="17.72" width="1.61" height="1.57" fill="#461264"/>
<rect x="315.14" y="16.20" width="1.61" height="1.57" fill="#471b6d"/>
<rect x="198.24" y="14.67" width="1.61" height="1.57" fill="#471b6d"/>
<rect x="230.97" y="14.67" width="1.61" height="1.57" fill="#462c7a"/>
<rect x="221.62" y="13.15" width="1.61" height="1.57" fill="#461264"/>
</g>
<ellipse cx="235.6" cy="89.4" rx="28.1" ry="27.4" fill="none" stroke="#0000ff" stroke-width="1.3"/>
<rect x="315.8" y="10.0" width="1.1" height="122.1" fill="#2a1030"/><rect x="192.0" y="10.0" width="124.7" height="1.0" fill="#2a1030"/>
<rect x="189.8" y="131.6" width="2.2" height="1" fill="#bbb"/>
<text x="187.6" y="136.4" font-size="11" text-anchor="end">0</text>
<rect x="189.8" y="101.1" width="2.2" height="1" fill="#bbb"/>
<text x="187.6" y="105.9" font-size="11" text-anchor="end">1</text>
<rect x="189.8" y="70.6" width="2.2" height="1" fill="#bbb"/>
<text x="187.6" y="75.4" font-size="11" text-anchor="end">2</text>
<rect x="189.8" y="40.1" width="2.2" height="1" fill="#bbb"/>
<text x="187.6" y="44.9" font-size="11" text-anchor="end">3</text>
<rect x="189.8" y="9.6" width="2.2" height="1" fill="#bbb"/>
<text x="187.6" y="14.4" font-size="11" text-anchor="end">4</text>
<rect x="191.5" y="132.1" width="1" height="2.2" fill="#bbb"/>
<text x="192.0" y="144.9" font-size="11" text-anchor="middle">0</text>
<rect x="253.8" y="132.1" width="1" height="2.2" fill="#bbb"/>
<text x="254.3" y="144.9" font-size="11" text-anchor="middle">2</text>
<rect x="316.2" y="132.1" width="1" height="2.2" fill="#bbb"/>
<text x="316.7" y="144.9" font-size="11" text-anchor="middle">4</text>
<rect x="280.0" y="146.4" width="68.5" height="105.0" fill="#fff" stroke="#7a7a7a" stroke-width="1.1"/>
<text x="312.7" y="156.8" font-size="12" text-anchor="middle">Average 1σ</text>
<text x="312.8" y="168.9" font-size="12" text-anchor="middle">Error Bar</text>
<g stroke="#1f77b4" stroke-width="1.3"><line x1="298.2" y1="194.5" x2="331.9" y2="194.5"/><line x1="312.9" y1="175.2" x2="312.9" y2="208.7"/></g><circle cx="312.9" cy="194.5" r="2.2" fill="#1f77b4"/>
<g stroke="#ff7f0e" stroke-width="1.3"><line x1="294.6" y1="232.5" x2="335.0" y2="232.5"/><line x1="312.9" y1="216.8" x2="312.9" y2="245.1"/></g><circle cx="312.9" cy="232.5" r="2.2" fill="#ff7f0e"/>
</svg></body></html>
